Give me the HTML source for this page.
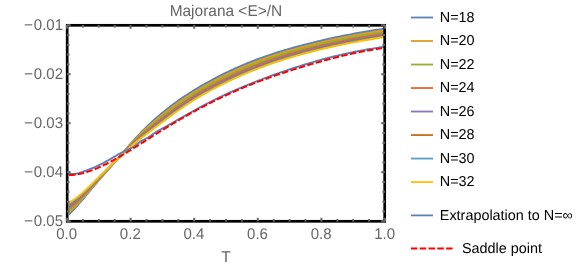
<!DOCTYPE html>
<html><head><meta charset="utf-8"><style>
html,body{margin:0;padding:0;background:#fff;overflow:hidden;}
svg{display:block;font-family:"Liberation Sans",sans-serif;will-change:transform;text-rendering:geometricPrecision;}
</style></head><body>
<svg width="581" height="267" viewBox="0 0 581 267">
<rect width="581" height="267" fill="#fff"/>
<defs><clipPath id="c"><rect x="67.2" y="25.3" width="318.5" height="196.0"/></clipPath><clipPath id="cb"><rect x="69.0" y="25.3" width="316.7" height="196.0"/></clipPath></defs>
<g clip-path="url(#cb)" fill="none" stroke-width="1.9" stroke-linejoin="round">
<path d="M67.00,216.15 L68.45,214.84 L69.91,213.47 L71.36,212.03 L72.82,210.55 L74.27,209.01 L75.73,207.43 L77.18,205.82 L78.63,204.17 L80.09,202.49 L81.54,200.79 L83.00,199.07 L84.45,197.34 L85.91,195.60 L87.36,193.85 L88.82,192.11 L90.27,190.38 L91.72,188.65 L93.18,186.94 L94.63,185.23 L96.09,183.53 L97.54,181.84 L99.00,180.16 L100.45,178.48 L101.90,176.80 L103.36,175.13 L104.81,173.46 L106.27,171.80 L107.72,170.13 L109.18,168.46 L110.63,166.79 L112.08,165.12 L113.54,163.45 L114.99,161.77 L116.45,160.09 L117.90,158.40 L119.36,156.71 L120.81,155.01 L122.26,153.32 L123.72,151.63 L125.17,149.95 L126.63,148.27 L128.08,146.60 L129.54,144.94 L130.99,143.29 L132.45,141.66 L133.90,140.05 L135.35,138.45 L136.81,136.87 L138.26,135.32 L139.72,133.79 L141.17,132.27 L142.63,130.79 L144.08,129.33 L145.53,127.89 L146.99,126.48 L148.44,125.09 L149.90,123.73 L151.35,122.38 L152.81,121.06 L154.26,119.76 L155.71,118.47 L157.17,117.21 L158.62,115.96 L160.08,114.73 L161.53,113.52 L162.99,112.32 L164.44,111.14 L165.89,109.98 L167.35,108.83 L168.80,107.69 L170.26,106.57 L171.71,105.46 L173.17,104.36 L174.62,103.28 L176.08,102.22 L177.53,101.17 L178.98,100.14 L180.44,99.12 L181.89,98.11 L183.35,97.12 L184.80,96.14 L186.26,95.18 L187.71,94.22 L189.16,93.29 L190.62,92.36 L192.07,91.44 L193.53,90.54 L194.98,89.64 L196.44,88.76 L197.89,87.89 L199.34,87.03 L200.80,86.18 L202.25,85.33 L203.71,84.50 L205.16,83.68 L206.62,82.86 L208.07,82.05 L209.53,81.25 L210.98,80.46 L212.43,79.68 L213.89,78.90 L215.34,78.13 L216.80,77.37 L218.25,76.61 L219.71,75.87 L221.16,75.13 L222.61,74.40 L224.07,73.68 L225.52,72.97 L226.98,72.26 L228.43,71.56 L229.89,70.87 L231.34,70.19 L232.79,69.51 L234.25,68.85 L235.70,68.19 L237.16,67.54 L238.61,66.89 L240.07,66.26 L241.52,65.63 L242.97,65.01 L244.43,64.39 L245.88,63.79 L247.34,63.19 L248.79,62.59 L250.25,62.01 L251.70,61.43 L253.16,60.87 L254.61,60.30 L256.06,59.75 L257.52,59.20 L258.97,58.66 L260.43,58.12 L261.88,57.60 L263.34,57.07 L264.79,56.56 L266.24,56.05 L267.70,55.55 L269.15,55.05 L270.61,54.56 L272.06,54.08 L273.52,53.60 L274.97,53.13 L276.42,52.66 L277.88,52.20 L279.33,51.75 L280.79,51.30 L282.24,50.85 L283.70,50.42 L285.15,49.98 L286.61,49.56 L288.06,49.13 L289.51,48.72 L290.97,48.30 L292.42,47.90 L293.88,47.49 L295.33,47.10 L296.79,46.70 L298.24,46.31 L299.69,45.93 L301.15,45.55 L302.60,45.17 L304.06,44.79 L305.51,44.42 L306.97,44.05 L308.42,43.67 L309.87,43.31 L311.33,42.94 L312.78,42.58 L314.24,42.22 L315.69,41.86 L317.15,41.50 L318.60,41.15 L320.05,40.80 L321.51,40.46 L322.96,40.11 L324.42,39.78 L325.87,39.44 L327.33,39.11 L328.78,38.78 L330.24,38.46 L331.69,38.14 L333.14,37.82 L334.60,37.51 L336.05,37.21 L337.51,36.91 L338.96,36.61 L340.42,36.32 L341.87,36.03 L343.32,35.74 L344.78,35.46 L346.23,35.17 L347.69,34.90 L349.14,34.62 L350.60,34.34 L352.05,34.07 L353.50,33.80 L354.96,33.54 L356.41,33.27 L357.87,33.01 L359.32,32.75 L360.78,32.49 L362.23,32.23 L363.68,31.98 L365.14,31.73 L366.59,31.48 L368.05,31.23 L369.50,30.99 L370.96,30.75 L372.41,30.51 L373.87,30.27 L375.32,30.03 L376.77,29.80 L378.23,29.57 L379.68,29.34 L381.14,29.11 L382.59,28.88 L384.05,28.66 L385.50,28.44 L385.50,30.09 L384.05,30.31 L382.59,30.54 L381.14,30.77 L379.68,31.01 L378.23,31.24 L376.77,31.48 L375.32,31.71 L373.87,31.95 L372.41,32.19 L370.96,32.44 L369.50,32.68 L368.05,32.93 L366.59,33.18 L365.14,33.43 L363.68,33.68 L362.23,33.94 L360.78,34.19 L359.32,34.45 L357.87,34.72 L356.41,34.98 L354.96,35.25 L353.50,35.52 L352.05,35.79 L350.60,36.06 L349.14,36.34 L347.69,36.62 L346.23,36.90 L344.78,37.18 L343.32,37.47 L341.87,37.76 L340.42,38.05 L338.96,38.35 L337.51,38.65 L336.05,38.95 L334.60,39.26 L333.14,39.57 L331.69,39.89 L330.24,40.21 L328.78,40.53 L327.33,40.86 L325.87,41.19 L324.42,41.53 L322.96,41.87 L321.51,42.21 L320.05,42.55 L318.60,42.90 L317.15,43.26 L315.69,43.61 L314.24,43.97 L312.78,44.33 L311.33,44.70 L309.87,45.07 L308.42,45.44 L306.97,45.81 L305.51,46.19 L304.06,46.56 L302.60,46.94 L301.15,47.33 L299.69,47.71 L298.24,48.10 L296.79,48.49 L295.33,48.89 L293.88,49.29 L292.42,49.70 L290.97,50.11 L289.51,50.53 L288.06,50.95 L286.61,51.38 L285.15,51.81 L283.70,52.25 L282.24,52.69 L280.79,53.14 L279.33,53.59 L277.88,54.05 L276.42,54.52 L274.97,54.99 L273.52,55.46 L272.06,55.95 L270.61,56.44 L269.15,56.93 L267.70,57.43 L266.24,57.94 L264.79,58.45 L263.34,58.97 L261.88,59.49 L260.43,60.03 L258.97,60.56 L257.52,61.11 L256.06,61.66 L254.61,62.22 L253.16,62.79 L251.70,63.36 L250.25,63.94 L248.79,64.52 L247.34,65.12 L245.88,65.72 L244.43,66.33 L242.97,66.95 L241.52,67.57 L240.07,68.20 L238.61,68.84 L237.16,69.49 L235.70,70.14 L234.25,70.80 L232.79,71.47 L231.34,72.15 L229.89,72.83 L228.43,73.52 L226.98,74.22 L225.52,74.93 L224.07,75.64 L222.61,76.37 L221.16,77.10 L219.71,77.83 L218.25,78.58 L216.80,79.33 L215.34,80.09 L213.89,80.86 L212.43,81.64 L210.98,82.42 L209.53,83.21 L208.07,84.01 L206.62,84.81 L205.16,85.63 L203.71,86.45 L202.25,87.28 L200.80,88.12 L199.34,88.97 L197.89,89.83 L196.44,90.71 L194.98,91.59 L193.53,92.48 L192.07,93.39 L190.62,94.31 L189.16,95.24 L187.71,96.18 L186.26,97.13 L184.80,98.10 L183.35,99.08 L181.89,100.07 L180.44,101.08 L178.98,102.10 L177.53,103.13 L176.08,104.18 L174.62,105.24 L173.17,106.32 L171.71,107.40 L170.26,108.50 L168.80,109.62 L167.35,110.74 L165.89,111.88 L164.44,113.03 L162.99,114.19 L161.53,115.36 L160.08,116.55 L158.62,117.75 L157.17,118.97 L155.71,120.20 L154.26,121.44 L152.81,122.70 L151.35,123.98 L149.90,125.28 L148.44,126.59 L146.99,127.91 L145.53,129.26 L144.08,130.63 L142.63,132.01 L141.17,133.42 L139.72,134.86 L138.26,136.32 L136.81,137.80 L135.35,139.30 L133.90,140.83 L132.45,142.37 L130.99,143.94 L129.54,145.51 L128.08,147.11 L126.63,148.71 L125.17,150.32 L123.72,151.94 L122.26,153.57 L120.81,155.20 L119.36,156.83 L117.90,158.45 L116.45,160.09 L114.99,161.72 L113.54,163.35 L112.08,164.98 L110.63,166.61 L109.18,168.23 L107.72,169.86 L106.27,171.48 L104.81,173.11 L103.36,174.73 L101.90,176.36 L100.45,178.00 L99.00,179.63 L97.54,181.27 L96.09,182.92 L94.63,184.57 L93.18,186.23 L91.72,187.90 L90.27,189.57 L88.82,191.25 L87.36,192.92 L85.91,194.60 L84.45,196.27 L83.00,197.93 L81.54,199.57 L80.09,201.19 L78.63,202.78 L77.18,204.34 L75.73,205.87 L74.27,207.36 L72.82,208.80 L71.36,210.19 L69.91,211.52 L68.45,212.80 L67.00,214.01Z" fill="#5E81B5" stroke="none"/>
<path d="M67.00,214.01 L68.45,212.80 L69.91,211.52 L71.36,210.19 L72.82,208.80 L74.27,207.36 L75.73,205.87 L77.18,204.34 L78.63,202.78 L80.09,201.19 L81.54,199.57 L83.00,197.93 L84.45,196.27 L85.91,194.60 L87.36,192.92 L88.82,191.25 L90.27,189.57 L91.72,187.90 L93.18,186.23 L94.63,184.57 L96.09,182.92 L97.54,181.27 L99.00,179.63 L100.45,178.00 L101.90,176.36 L103.36,174.73 L104.81,173.11 L106.27,171.48 L107.72,169.86 L109.18,168.23 L110.63,166.61 L112.08,164.98 L113.54,163.35 L114.99,161.72 L116.45,160.09 L117.90,158.45 L119.36,156.83 L120.81,155.20 L122.26,153.57 L123.72,151.94 L125.17,150.32 L126.63,148.71 L128.08,147.11 L129.54,145.51 L130.99,143.94 L132.45,142.37 L133.90,140.83 L135.35,139.30 L136.81,137.80 L138.26,136.32 L139.72,134.86 L141.17,133.42 L142.63,132.01 L144.08,130.63 L145.53,129.26 L146.99,127.91 L148.44,126.59 L149.90,125.28 L151.35,123.98 L152.81,122.70 L154.26,121.44 L155.71,120.20 L157.17,118.97 L158.62,117.75 L160.08,116.55 L161.53,115.36 L162.99,114.19 L164.44,113.03 L165.89,111.88 L167.35,110.74 L168.80,109.62 L170.26,108.50 L171.71,107.40 L173.17,106.32 L174.62,105.24 L176.08,104.18 L177.53,103.13 L178.98,102.10 L180.44,101.08 L181.89,100.07 L183.35,99.08 L184.80,98.10 L186.26,97.13 L187.71,96.18 L189.16,95.24 L190.62,94.31 L192.07,93.39 L193.53,92.48 L194.98,91.59 L196.44,90.71 L197.89,89.83 L199.34,88.97 L200.80,88.12 L202.25,87.28 L203.71,86.45 L205.16,85.63 L206.62,84.81 L208.07,84.01 L209.53,83.21 L210.98,82.42 L212.43,81.64 L213.89,80.86 L215.34,80.09 L216.80,79.33 L218.25,78.58 L219.71,77.83 L221.16,77.10 L222.61,76.37 L224.07,75.64 L225.52,74.93 L226.98,74.22 L228.43,73.52 L229.89,72.83 L231.34,72.15 L232.79,71.47 L234.25,70.80 L235.70,70.14 L237.16,69.49 L238.61,68.84 L240.07,68.20 L241.52,67.57 L242.97,66.95 L244.43,66.33 L245.88,65.72 L247.34,65.12 L248.79,64.52 L250.25,63.94 L251.70,63.36 L253.16,62.79 L254.61,62.22 L256.06,61.66 L257.52,61.11 L258.97,60.56 L260.43,60.03 L261.88,59.49 L263.34,58.97 L264.79,58.45 L266.24,57.94 L267.70,57.43 L269.15,56.93 L270.61,56.44 L272.06,55.95 L273.52,55.46 L274.97,54.99 L276.42,54.52 L277.88,54.05 L279.33,53.59 L280.79,53.14 L282.24,52.69 L283.70,52.25 L285.15,51.81 L286.61,51.38 L288.06,50.95 L289.51,50.53 L290.97,50.11 L292.42,49.70 L293.88,49.29 L295.33,48.89 L296.79,48.49 L298.24,48.10 L299.69,47.71 L301.15,47.33 L302.60,46.94 L304.06,46.56 L305.51,46.19 L306.97,45.81 L308.42,45.44 L309.87,45.07 L311.33,44.70 L312.78,44.33 L314.24,43.97 L315.69,43.61 L317.15,43.26 L318.60,42.90 L320.05,42.55 L321.51,42.21 L322.96,41.87 L324.42,41.53 L325.87,41.19 L327.33,40.86 L328.78,40.53 L330.24,40.21 L331.69,39.89 L333.14,39.57 L334.60,39.26 L336.05,38.95 L337.51,38.65 L338.96,38.35 L340.42,38.05 L341.87,37.76 L343.32,37.47 L344.78,37.18 L346.23,36.90 L347.69,36.62 L349.14,36.34 L350.60,36.06 L352.05,35.79 L353.50,35.52 L354.96,35.25 L356.41,34.98 L357.87,34.72 L359.32,34.45 L360.78,34.19 L362.23,33.94 L363.68,33.68 L365.14,33.43 L366.59,33.18 L368.05,32.93 L369.50,32.68 L370.96,32.44 L372.41,32.19 L373.87,31.95 L375.32,31.71 L376.77,31.48 L378.23,31.24 L379.68,31.01 L381.14,30.77 L382.59,30.54 L384.05,30.31 L385.50,30.09 L385.50,31.74 L384.05,31.97 L382.59,32.21 L381.14,32.44 L379.68,32.68 L378.23,32.91 L376.77,33.15 L375.32,33.39 L373.87,33.64 L372.41,33.88 L370.96,34.13 L369.50,34.37 L368.05,34.62 L366.59,34.87 L365.14,35.13 L363.68,35.38 L362.23,35.64 L360.78,35.90 L359.32,36.16 L357.87,36.42 L356.41,36.69 L354.96,36.96 L353.50,37.23 L352.05,37.50 L350.60,37.78 L349.14,38.06 L347.69,38.34 L346.23,38.62 L344.78,38.91 L343.32,39.20 L341.87,39.49 L340.42,39.79 L338.96,40.08 L337.51,40.39 L336.05,40.69 L334.60,41.00 L333.14,41.32 L331.69,41.63 L330.24,41.95 L328.78,42.28 L327.33,42.61 L325.87,42.94 L324.42,43.28 L322.96,43.62 L321.51,43.96 L320.05,44.31 L318.60,44.66 L317.15,45.01 L315.69,45.37 L314.24,45.73 L312.78,46.09 L311.33,46.46 L309.87,46.83 L308.42,47.20 L306.97,47.57 L305.51,47.95 L304.06,48.33 L302.60,48.72 L301.15,49.10 L299.69,49.49 L298.24,49.89 L296.79,50.29 L295.33,50.69 L293.88,51.10 L292.42,51.51 L290.97,51.92 L289.51,52.35 L288.06,52.77 L286.61,53.20 L285.15,53.64 L283.70,54.08 L282.24,54.53 L280.79,54.98 L279.33,55.44 L277.88,55.90 L276.42,56.37 L274.97,56.85 L273.52,57.33 L272.06,57.82 L270.61,58.31 L269.15,58.81 L267.70,59.31 L266.24,59.82 L264.79,60.34 L263.34,60.86 L261.88,61.39 L260.43,61.93 L258.97,62.47 L257.52,63.02 L256.06,63.57 L254.61,64.14 L253.16,64.71 L251.70,65.28 L250.25,65.86 L248.79,66.45 L247.34,67.05 L245.88,67.66 L244.43,68.27 L242.97,68.89 L241.52,69.51 L240.07,70.15 L238.61,70.79 L237.16,71.44 L235.70,72.10 L234.25,72.76 L232.79,73.43 L231.34,74.11 L229.89,74.79 L228.43,75.49 L226.98,76.19 L225.52,76.90 L224.07,77.61 L222.61,78.33 L221.16,79.06 L219.71,79.80 L218.25,80.54 L216.80,81.30 L215.34,82.05 L213.89,82.82 L212.43,83.59 L210.98,84.37 L209.53,85.16 L208.07,85.96 L206.62,86.76 L205.16,87.58 L203.71,88.40 L202.25,89.23 L200.80,90.07 L199.34,90.92 L197.89,91.78 L196.44,92.65 L194.98,93.54 L193.53,94.43 L192.07,95.34 L190.62,96.26 L189.16,97.19 L187.71,98.13 L186.26,99.09 L184.80,100.06 L183.35,101.04 L181.89,102.04 L180.44,103.04 L178.98,104.07 L177.53,105.10 L176.08,106.14 L174.62,107.20 L173.17,108.27 L171.71,109.35 L170.26,110.44 L168.80,111.55 L167.35,112.66 L165.89,113.78 L164.44,114.91 L162.99,116.06 L161.53,117.21 L160.08,118.37 L158.62,119.54 L157.17,120.73 L155.71,121.92 L154.26,123.13 L152.81,124.35 L151.35,125.58 L149.90,126.82 L148.44,128.08 L146.99,129.35 L145.53,130.63 L144.08,131.92 L142.63,133.24 L141.17,134.57 L139.72,135.93 L138.26,137.32 L136.81,138.72 L135.35,140.16 L133.90,141.61 L132.45,143.09 L130.99,144.58 L129.54,146.09 L128.08,147.61 L126.63,149.15 L125.17,150.69 L123.72,152.25 L122.26,153.81 L120.81,155.38 L119.36,156.95 L117.90,158.49 L116.45,160.09 L114.99,161.68 L113.54,163.27 L112.08,164.86 L110.63,166.45 L109.18,168.03 L107.72,169.62 L106.27,171.21 L104.81,172.79 L103.36,174.38 L101.90,175.98 L100.45,177.57 L99.00,179.17 L97.54,180.77 L96.09,182.38 L94.63,184.00 L93.18,185.61 L91.72,187.23 L90.27,188.86 L88.82,190.48 L87.36,192.11 L85.91,193.72 L84.45,195.33 L83.00,196.92 L81.54,198.49 L80.09,200.04 L78.63,201.56 L77.18,203.04 L75.73,204.49 L74.27,205.90 L72.82,207.25 L71.36,208.56 L69.91,209.81 L68.45,211.00 L67.00,212.12Z" fill="#E19C24" stroke="none"/>
<path d="M67.00,212.12 L68.45,211.00 L69.91,209.81 L71.36,208.56 L72.82,207.25 L74.27,205.90 L75.73,204.49 L77.18,203.04 L78.63,201.56 L80.09,200.04 L81.54,198.49 L83.00,196.92 L84.45,195.33 L85.91,193.72 L87.36,192.11 L88.82,190.48 L90.27,188.86 L91.72,187.23 L93.18,185.61 L94.63,184.00 L96.09,182.38 L97.54,180.77 L99.00,179.17 L100.45,177.57 L101.90,175.98 L103.36,174.38 L104.81,172.79 L106.27,171.21 L107.72,169.62 L109.18,168.03 L110.63,166.45 L112.08,164.86 L113.54,163.27 L114.99,161.68 L116.45,160.09 L117.90,158.49 L119.36,156.95 L120.81,155.38 L122.26,153.81 L123.72,152.25 L125.17,150.69 L126.63,149.15 L128.08,147.61 L129.54,146.09 L130.99,144.58 L132.45,143.09 L133.90,141.61 L135.35,140.16 L136.81,138.72 L138.26,137.32 L139.72,135.93 L141.17,134.57 L142.63,133.24 L144.08,131.92 L145.53,130.63 L146.99,129.35 L148.44,128.08 L149.90,126.82 L151.35,125.58 L152.81,124.35 L154.26,123.13 L155.71,121.92 L157.17,120.73 L158.62,119.54 L160.08,118.37 L161.53,117.21 L162.99,116.06 L164.44,114.91 L165.89,113.78 L167.35,112.66 L168.80,111.55 L170.26,110.44 L171.71,109.35 L173.17,108.27 L174.62,107.20 L176.08,106.14 L177.53,105.10 L178.98,104.07 L180.44,103.04 L181.89,102.04 L183.35,101.04 L184.80,100.06 L186.26,99.09 L187.71,98.13 L189.16,97.19 L190.62,96.26 L192.07,95.34 L193.53,94.43 L194.98,93.54 L196.44,92.65 L197.89,91.78 L199.34,90.92 L200.80,90.07 L202.25,89.23 L203.71,88.40 L205.16,87.58 L206.62,86.76 L208.07,85.96 L209.53,85.16 L210.98,84.37 L212.43,83.59 L213.89,82.82 L215.34,82.05 L216.80,81.30 L218.25,80.54 L219.71,79.80 L221.16,79.06 L222.61,78.33 L224.07,77.61 L225.52,76.90 L226.98,76.19 L228.43,75.49 L229.89,74.79 L231.34,74.11 L232.79,73.43 L234.25,72.76 L235.70,72.10 L237.16,71.44 L238.61,70.79 L240.07,70.15 L241.52,69.51 L242.97,68.89 L244.43,68.27 L245.88,67.66 L247.34,67.05 L248.79,66.45 L250.25,65.86 L251.70,65.28 L253.16,64.71 L254.61,64.14 L256.06,63.57 L257.52,63.02 L258.97,62.47 L260.43,61.93 L261.88,61.39 L263.34,60.86 L264.79,60.34 L266.24,59.82 L267.70,59.31 L269.15,58.81 L270.61,58.31 L272.06,57.82 L273.52,57.33 L274.97,56.85 L276.42,56.37 L277.88,55.90 L279.33,55.44 L280.79,54.98 L282.24,54.53 L283.70,54.08 L285.15,53.64 L286.61,53.20 L288.06,52.77 L289.51,52.35 L290.97,51.92 L292.42,51.51 L293.88,51.10 L295.33,50.69 L296.79,50.29 L298.24,49.89 L299.69,49.49 L301.15,49.10 L302.60,48.72 L304.06,48.33 L305.51,47.95 L306.97,47.57 L308.42,47.20 L309.87,46.83 L311.33,46.46 L312.78,46.09 L314.24,45.73 L315.69,45.37 L317.15,45.01 L318.60,44.66 L320.05,44.31 L321.51,43.96 L322.96,43.62 L324.42,43.28 L325.87,42.94 L327.33,42.61 L328.78,42.28 L330.24,41.95 L331.69,41.63 L333.14,41.32 L334.60,41.00 L336.05,40.69 L337.51,40.39 L338.96,40.08 L340.42,39.79 L341.87,39.49 L343.32,39.20 L344.78,38.91 L346.23,38.62 L347.69,38.34 L349.14,38.06 L350.60,37.78 L352.05,37.50 L353.50,37.23 L354.96,36.96 L356.41,36.69 L357.87,36.42 L359.32,36.16 L360.78,35.90 L362.23,35.64 L363.68,35.38 L365.14,35.13 L366.59,34.87 L368.05,34.62 L369.50,34.37 L370.96,34.13 L372.41,33.88 L373.87,33.64 L375.32,33.39 L376.77,33.15 L378.23,32.91 L379.68,32.68 L381.14,32.44 L382.59,32.21 L384.05,31.97 L385.50,31.74 L385.50,33.39 L384.05,33.63 L382.59,33.87 L381.14,34.11 L379.68,34.35 L378.23,34.59 L376.77,34.83 L375.32,35.08 L373.87,35.32 L372.41,35.57 L370.96,35.82 L369.50,36.06 L368.05,36.32 L366.59,36.57 L365.14,36.82 L363.68,37.08 L362.23,37.34 L360.78,37.60 L359.32,37.86 L357.87,38.13 L356.41,38.40 L354.96,38.67 L353.50,38.94 L352.05,39.22 L350.60,39.50 L349.14,39.78 L347.69,40.06 L346.23,40.35 L344.78,40.64 L343.32,40.93 L341.87,41.22 L340.42,41.52 L338.96,41.82 L337.51,42.13 L336.05,42.43 L334.60,42.75 L333.14,43.06 L331.69,43.38 L330.24,43.70 L328.78,44.03 L327.33,44.36 L325.87,44.69 L324.42,45.03 L322.96,45.37 L321.51,45.71 L320.05,46.06 L318.60,46.41 L317.15,46.76 L315.69,47.12 L314.24,47.48 L312.78,47.85 L311.33,48.21 L309.87,48.59 L308.42,48.96 L306.97,49.34 L305.51,49.72 L304.06,50.10 L302.60,50.49 L301.15,50.88 L299.69,51.28 L298.24,51.67 L296.79,52.08 L295.33,52.48 L293.88,52.90 L292.42,53.31 L290.97,53.73 L289.51,54.16 L288.06,54.59 L286.61,55.03 L285.15,55.47 L283.70,55.92 L282.24,56.37 L280.79,56.82 L279.33,57.29 L277.88,57.76 L276.42,58.23 L274.97,58.71 L273.52,59.19 L272.06,59.69 L270.61,60.18 L269.15,60.69 L267.70,61.19 L266.24,61.71 L264.79,62.23 L263.34,62.76 L261.88,63.29 L260.43,63.83 L258.97,64.38 L257.52,64.93 L256.06,65.49 L254.61,66.05 L253.16,66.63 L251.70,67.20 L250.25,67.79 L248.79,68.38 L247.34,68.98 L245.88,69.59 L244.43,70.21 L242.97,70.83 L241.52,71.46 L240.07,72.09 L238.61,72.74 L237.16,73.39 L235.70,74.05 L234.25,74.72 L232.79,75.39 L231.34,76.07 L229.89,76.76 L228.43,77.45 L226.98,78.15 L225.52,78.86 L224.07,79.58 L222.61,80.30 L221.16,81.03 L219.71,81.76 L218.25,82.51 L216.80,83.26 L215.34,84.02 L213.89,84.78 L212.43,85.55 L210.98,86.33 L209.53,87.12 L208.07,87.91 L206.62,88.71 L205.16,89.52 L203.71,90.34 L202.25,91.17 L200.80,92.01 L199.34,92.86 L197.89,93.73 L196.44,94.60 L194.98,95.48 L193.53,96.38 L192.07,97.29 L190.62,98.21 L189.16,99.14 L187.71,100.09 L186.26,101.05 L184.80,102.02 L183.35,103.00 L181.89,104.00 L180.44,105.01 L178.98,106.03 L177.53,107.06 L176.08,108.10 L174.62,109.16 L173.17,110.22 L171.71,111.30 L170.26,112.38 L168.80,113.48 L167.35,114.58 L165.89,115.68 L164.44,116.80 L162.99,117.92 L161.53,119.05 L160.08,120.19 L158.62,121.33 L157.17,122.49 L155.71,123.65 L154.26,124.82 L152.81,125.99 L151.35,127.18 L149.90,128.37 L148.44,129.57 L146.99,130.78 L145.53,132.00 L144.08,133.22 L142.63,134.46 L141.17,135.72 L139.72,137.00 L138.26,138.31 L136.81,139.65 L135.35,141.01 L133.90,142.39 L132.45,143.80 L130.99,145.22 L129.54,146.66 L128.08,148.12 L126.63,149.59 L125.17,151.07 L123.72,152.56 L122.26,154.06 L120.81,155.56 L119.36,157.07 L117.90,158.55 L116.45,160.09 L114.99,161.63 L113.54,163.18 L112.08,164.72 L110.63,166.26 L109.18,167.80 L107.72,169.34 L106.27,170.88 L104.81,172.42 L103.36,173.96 L101.90,175.51 L100.45,177.06 L99.00,178.61 L97.54,180.17 L96.09,181.74 L94.63,183.30 L93.18,184.87 L91.72,186.44 L90.27,188.00 L88.82,189.57 L87.36,191.12 L85.91,192.67 L84.45,194.20 L83.00,195.71 L81.54,197.20 L80.09,198.66 L78.63,200.09 L77.18,201.48 L75.73,202.84 L74.27,204.14 L72.82,205.40 L71.36,206.60 L69.91,207.75 L68.45,208.84 L67.00,209.85Z" fill="#8FB032" stroke="none"/>
<path d="M67.00,209.85 L68.45,208.84 L69.91,207.75 L71.36,206.60 L72.82,205.40 L74.27,204.14 L75.73,202.84 L77.18,201.48 L78.63,200.09 L80.09,198.66 L81.54,197.20 L83.00,195.71 L84.45,194.20 L85.91,192.67 L87.36,191.12 L88.82,189.57 L90.27,188.00 L91.72,186.44 L93.18,184.87 L94.63,183.30 L96.09,181.74 L97.54,180.17 L99.00,178.61 L100.45,177.06 L101.90,175.51 L103.36,173.96 L104.81,172.42 L106.27,170.88 L107.72,169.34 L109.18,167.80 L110.63,166.26 L112.08,164.72 L113.54,163.18 L114.99,161.63 L116.45,160.09 L117.90,158.55 L119.36,157.07 L120.81,155.56 L122.26,154.06 L123.72,152.56 L125.17,151.07 L126.63,149.59 L128.08,148.12 L129.54,146.66 L130.99,145.22 L132.45,143.80 L133.90,142.39 L135.35,141.01 L136.81,139.65 L138.26,138.31 L139.72,137.00 L141.17,135.72 L142.63,134.46 L144.08,133.22 L145.53,132.00 L146.99,130.78 L148.44,129.57 L149.90,128.37 L151.35,127.18 L152.81,125.99 L154.26,124.82 L155.71,123.65 L157.17,122.49 L158.62,121.33 L160.08,120.19 L161.53,119.05 L162.99,117.92 L164.44,116.80 L165.89,115.68 L167.35,114.58 L168.80,113.48 L170.26,112.38 L171.71,111.30 L173.17,110.22 L174.62,109.16 L176.08,108.10 L177.53,107.06 L178.98,106.03 L180.44,105.01 L181.89,104.00 L183.35,103.00 L184.80,102.02 L186.26,101.05 L187.71,100.09 L189.16,99.14 L190.62,98.21 L192.07,97.29 L193.53,96.38 L194.98,95.48 L196.44,94.60 L197.89,93.73 L199.34,92.86 L200.80,92.01 L202.25,91.17 L203.71,90.34 L205.16,89.52 L206.62,88.71 L208.07,87.91 L209.53,87.12 L210.98,86.33 L212.43,85.55 L213.89,84.78 L215.34,84.02 L216.80,83.26 L218.25,82.51 L219.71,81.76 L221.16,81.03 L222.61,80.30 L224.07,79.58 L225.52,78.86 L226.98,78.15 L228.43,77.45 L229.89,76.76 L231.34,76.07 L232.79,75.39 L234.25,74.72 L235.70,74.05 L237.16,73.39 L238.61,72.74 L240.07,72.09 L241.52,71.46 L242.97,70.83 L244.43,70.21 L245.88,69.59 L247.34,68.98 L248.79,68.38 L250.25,67.79 L251.70,67.20 L253.16,66.63 L254.61,66.05 L256.06,65.49 L257.52,64.93 L258.97,64.38 L260.43,63.83 L261.88,63.29 L263.34,62.76 L264.79,62.23 L266.24,61.71 L267.70,61.19 L269.15,60.69 L270.61,60.18 L272.06,59.69 L273.52,59.19 L274.97,58.71 L276.42,58.23 L277.88,57.76 L279.33,57.29 L280.79,56.82 L282.24,56.37 L283.70,55.92 L285.15,55.47 L286.61,55.03 L288.06,54.59 L289.51,54.16 L290.97,53.73 L292.42,53.31 L293.88,52.90 L295.33,52.48 L296.79,52.08 L298.24,51.67 L299.69,51.28 L301.15,50.88 L302.60,50.49 L304.06,50.10 L305.51,49.72 L306.97,49.34 L308.42,48.96 L309.87,48.59 L311.33,48.21 L312.78,47.85 L314.24,47.48 L315.69,47.12 L317.15,46.76 L318.60,46.41 L320.05,46.06 L321.51,45.71 L322.96,45.37 L324.42,45.03 L325.87,44.69 L327.33,44.36 L328.78,44.03 L330.24,43.70 L331.69,43.38 L333.14,43.06 L334.60,42.75 L336.05,42.43 L337.51,42.13 L338.96,41.82 L340.42,41.52 L341.87,41.22 L343.32,40.93 L344.78,40.64 L346.23,40.35 L347.69,40.06 L349.14,39.78 L350.60,39.50 L352.05,39.22 L353.50,38.94 L354.96,38.67 L356.41,38.40 L357.87,38.13 L359.32,37.86 L360.78,37.60 L362.23,37.34 L363.68,37.08 L365.14,36.82 L366.59,36.57 L368.05,36.32 L369.50,36.06 L370.96,35.82 L372.41,35.57 L373.87,35.32 L375.32,35.08 L376.77,34.83 L378.23,34.59 L379.68,34.35 L381.14,34.11 L382.59,33.87 L384.05,33.63 L385.50,33.39 L385.50,34.46 L384.05,34.70 L382.59,34.95 L381.14,35.19 L379.68,35.43 L378.23,35.68 L376.77,35.92 L375.32,36.17 L373.87,36.41 L372.41,36.66 L370.96,36.91 L369.50,37.16 L368.05,37.42 L366.59,37.67 L365.14,37.93 L363.68,38.19 L362.23,38.45 L360.78,38.71 L359.32,38.97 L357.87,39.24 L356.41,39.51 L354.96,39.78 L353.50,40.06 L352.05,40.33 L350.60,40.61 L349.14,40.90 L347.69,41.18 L346.23,41.47 L344.78,41.76 L343.32,42.05 L341.87,42.35 L340.42,42.65 L338.96,42.95 L337.51,43.26 L336.05,43.57 L334.60,43.88 L333.14,44.19 L331.69,44.51 L330.24,44.84 L328.78,45.16 L327.33,45.49 L325.87,45.83 L324.42,46.16 L322.96,46.50 L321.51,46.85 L320.05,47.20 L318.60,47.55 L317.15,47.90 L315.69,48.26 L314.24,48.62 L312.78,48.99 L311.33,49.36 L309.87,49.73 L308.42,50.11 L306.97,50.49 L305.51,50.87 L304.06,51.25 L302.60,51.64 L301.15,52.04 L299.69,52.43 L298.24,52.84 L296.79,53.24 L295.33,53.65 L293.88,54.07 L292.42,54.49 L290.97,54.91 L289.51,55.34 L288.06,55.77 L286.61,56.21 L285.15,56.66 L283.70,57.11 L282.24,57.56 L280.79,58.02 L279.33,58.49 L277.88,58.96 L276.42,59.44 L274.97,59.92 L273.52,60.41 L272.06,60.90 L270.61,61.40 L269.15,61.91 L267.70,62.42 L266.24,62.94 L264.79,63.46 L263.34,63.99 L261.88,64.53 L260.43,65.07 L258.97,65.62 L257.52,66.17 L256.06,66.73 L254.61,67.30 L253.16,67.87 L251.70,68.45 L250.25,69.04 L248.79,69.64 L247.34,70.24 L245.88,70.85 L244.43,71.46 L242.97,72.09 L241.52,72.72 L240.07,73.36 L238.61,74.01 L237.16,74.66 L235.70,75.32 L234.25,75.99 L232.79,76.66 L231.34,77.34 L229.89,78.03 L228.43,78.73 L226.98,79.43 L225.52,80.14 L224.07,80.85 L222.61,81.58 L221.16,82.31 L219.71,83.04 L218.25,83.79 L216.80,84.54 L215.34,85.29 L213.89,86.06 L212.43,86.83 L210.98,87.60 L209.53,88.39 L208.07,89.18 L206.62,89.98 L205.16,90.79 L203.71,91.61 L202.25,92.44 L200.80,93.28 L199.34,94.13 L197.89,94.99 L196.44,95.86 L194.98,96.75 L193.53,97.64 L192.07,98.55 L190.62,99.48 L189.16,100.41 L187.71,101.36 L186.26,102.32 L184.80,103.29 L183.35,104.28 L181.89,105.28 L180.44,106.28 L178.98,107.31 L177.53,108.34 L176.08,109.38 L174.62,110.43 L173.17,111.49 L171.71,112.56 L170.26,113.64 L168.80,114.73 L167.35,115.82 L165.89,116.92 L164.44,118.02 L162.99,119.13 L161.53,120.25 L160.08,121.37 L158.62,122.50 L157.17,123.63 L155.71,124.77 L154.26,125.92 L152.81,127.06 L151.35,128.22 L149.90,129.38 L148.44,130.54 L146.99,131.71 L145.53,132.89 L144.08,134.07 L142.63,135.26 L141.17,136.47 L139.72,137.70 L138.26,138.96 L136.81,140.25 L135.35,141.56 L133.90,142.90 L132.45,144.26 L130.99,145.64 L129.54,147.03 L128.08,148.45 L126.63,149.87 L125.17,151.31 L123.72,152.76 L122.26,154.22 L120.81,155.68 L119.36,157.15 L117.90,158.59 L116.45,160.09 L114.99,161.60 L113.54,163.10 L112.08,164.60 L110.63,166.11 L109.18,167.61 L107.72,169.11 L106.27,170.62 L104.81,172.13 L103.36,173.63 L101.90,175.15 L100.45,176.66 L99.00,178.18 L97.54,179.71 L96.09,181.23 L94.63,182.76 L93.18,184.29 L91.72,185.82 L90.27,187.34 L88.82,188.85 L87.36,190.36 L85.91,191.85 L84.45,193.32 L83.00,194.77 L81.54,196.20 L80.09,197.59 L78.63,198.95 L77.18,200.27 L75.73,201.55 L74.27,202.78 L72.82,203.96 L71.36,205.08 L69.91,206.15 L68.45,207.15 L67.00,208.09Z" fill="#EB6235" stroke="none"/>
<path d="M67.00,208.09 L68.45,207.15 L69.91,206.15 L71.36,205.08 L72.82,203.96 L74.27,202.78 L75.73,201.55 L77.18,200.27 L78.63,198.95 L80.09,197.59 L81.54,196.20 L83.00,194.77 L84.45,193.32 L85.91,191.85 L87.36,190.36 L88.82,188.85 L90.27,187.34 L91.72,185.82 L93.18,184.29 L94.63,182.76 L96.09,181.23 L97.54,179.71 L99.00,178.18 L100.45,176.66 L101.90,175.15 L103.36,173.63 L104.81,172.13 L106.27,170.62 L107.72,169.11 L109.18,167.61 L110.63,166.11 L112.08,164.60 L113.54,163.10 L114.99,161.60 L116.45,160.09 L117.90,158.59 L119.36,157.15 L120.81,155.68 L122.26,154.22 L123.72,152.76 L125.17,151.31 L126.63,149.87 L128.08,148.45 L129.54,147.03 L130.99,145.64 L132.45,144.26 L133.90,142.90 L135.35,141.56 L136.81,140.25 L138.26,138.96 L139.72,137.70 L141.17,136.47 L142.63,135.26 L144.08,134.07 L145.53,132.89 L146.99,131.71 L148.44,130.54 L149.90,129.38 L151.35,128.22 L152.81,127.06 L154.26,125.92 L155.71,124.77 L157.17,123.63 L158.62,122.50 L160.08,121.37 L161.53,120.25 L162.99,119.13 L164.44,118.02 L165.89,116.92 L167.35,115.82 L168.80,114.73 L170.26,113.64 L171.71,112.56 L173.17,111.49 L174.62,110.43 L176.08,109.38 L177.53,108.34 L178.98,107.31 L180.44,106.28 L181.89,105.28 L183.35,104.28 L184.80,103.29 L186.26,102.32 L187.71,101.36 L189.16,100.41 L190.62,99.48 L192.07,98.55 L193.53,97.64 L194.98,96.75 L196.44,95.86 L197.89,94.99 L199.34,94.13 L200.80,93.28 L202.25,92.44 L203.71,91.61 L205.16,90.79 L206.62,89.98 L208.07,89.18 L209.53,88.39 L210.98,87.60 L212.43,86.83 L213.89,86.06 L215.34,85.29 L216.80,84.54 L218.25,83.79 L219.71,83.04 L221.16,82.31 L222.61,81.58 L224.07,80.85 L225.52,80.14 L226.98,79.43 L228.43,78.73 L229.89,78.03 L231.34,77.34 L232.79,76.66 L234.25,75.99 L235.70,75.32 L237.16,74.66 L238.61,74.01 L240.07,73.36 L241.52,72.72 L242.97,72.09 L244.43,71.46 L245.88,70.85 L247.34,70.24 L248.79,69.64 L250.25,69.04 L251.70,68.45 L253.16,67.87 L254.61,67.30 L256.06,66.73 L257.52,66.17 L258.97,65.62 L260.43,65.07 L261.88,64.53 L263.34,63.99 L264.79,63.46 L266.24,62.94 L267.70,62.42 L269.15,61.91 L270.61,61.40 L272.06,60.90 L273.52,60.41 L274.97,59.92 L276.42,59.44 L277.88,58.96 L279.33,58.49 L280.79,58.02 L282.24,57.56 L283.70,57.11 L285.15,56.66 L286.61,56.21 L288.06,55.77 L289.51,55.34 L290.97,54.91 L292.42,54.49 L293.88,54.07 L295.33,53.65 L296.79,53.24 L298.24,52.84 L299.69,52.43 L301.15,52.04 L302.60,51.64 L304.06,51.25 L305.51,50.87 L306.97,50.49 L308.42,50.11 L309.87,49.73 L311.33,49.36 L312.78,48.99 L314.24,48.62 L315.69,48.26 L317.15,47.90 L318.60,47.55 L320.05,47.20 L321.51,46.85 L322.96,46.50 L324.42,46.16 L325.87,45.83 L327.33,45.49 L328.78,45.16 L330.24,44.84 L331.69,44.51 L333.14,44.19 L334.60,43.88 L336.05,43.57 L337.51,43.26 L338.96,42.95 L340.42,42.65 L341.87,42.35 L343.32,42.05 L344.78,41.76 L346.23,41.47 L347.69,41.18 L349.14,40.90 L350.60,40.61 L352.05,40.33 L353.50,40.06 L354.96,39.78 L356.41,39.51 L357.87,39.24 L359.32,38.97 L360.78,38.71 L362.23,38.45 L363.68,38.19 L365.14,37.93 L366.59,37.67 L368.05,37.42 L369.50,37.16 L370.96,36.91 L372.41,36.66 L373.87,36.41 L375.32,36.17 L376.77,35.92 L378.23,35.68 L379.68,35.43 L381.14,35.19 L382.59,34.95 L384.05,34.70 L385.50,34.46 L385.50,35.45 L384.05,35.70 L382.59,35.94 L381.14,36.19 L379.68,36.43 L378.23,36.68 L376.77,36.93 L375.32,37.18 L373.87,37.43 L372.41,37.68 L370.96,37.93 L369.50,38.18 L368.05,38.43 L366.59,38.69 L365.14,38.95 L363.68,39.21 L362.23,39.47 L360.78,39.73 L359.32,40.00 L357.87,40.26 L356.41,40.53 L354.96,40.81 L353.50,41.08 L352.05,41.36 L350.60,41.64 L349.14,41.93 L347.69,42.21 L346.23,42.50 L344.78,42.80 L343.32,43.09 L341.87,43.39 L340.42,43.69 L338.96,43.99 L337.51,44.30 L336.05,44.61 L334.60,44.93 L333.14,45.24 L331.69,45.56 L330.24,45.89 L328.78,46.21 L327.33,46.54 L325.87,46.88 L324.42,47.21 L322.96,47.56 L321.51,47.90 L320.05,48.25 L318.60,48.60 L317.15,48.95 L315.69,49.31 L314.24,49.68 L312.78,50.04 L311.33,50.41 L309.87,50.79 L308.42,51.16 L306.97,51.54 L305.51,51.93 L304.06,52.32 L302.60,52.71 L301.15,53.10 L299.69,53.50 L298.24,53.91 L296.79,54.32 L295.33,54.73 L293.88,55.15 L292.42,55.57 L290.97,56.00 L289.51,56.43 L288.06,56.87 L286.61,57.31 L285.15,57.75 L283.70,58.21 L282.24,58.66 L280.79,59.13 L279.33,59.60 L277.88,60.07 L276.42,60.55 L274.97,61.03 L273.52,61.52 L272.06,62.02 L270.61,62.52 L269.15,63.03 L267.70,63.55 L266.24,64.07 L264.79,64.59 L263.34,65.13 L261.88,65.67 L260.43,66.21 L258.97,66.76 L257.52,67.32 L256.06,67.88 L254.61,68.45 L253.16,69.03 L251.70,69.61 L250.25,70.20 L248.79,70.79 L247.34,71.40 L245.88,72.01 L244.43,72.63 L242.97,73.25 L241.52,73.89 L240.07,74.53 L238.61,75.18 L237.16,75.83 L235.70,76.49 L234.25,77.16 L232.79,77.84 L231.34,78.52 L229.89,79.21 L228.43,79.90 L226.98,80.61 L225.52,81.32 L224.07,82.03 L222.61,82.76 L221.16,83.48 L219.71,84.22 L218.25,84.96 L216.80,85.71 L215.34,86.47 L213.89,87.23 L212.43,88.00 L210.98,88.78 L209.53,89.56 L208.07,90.35 L206.62,91.15 L205.16,91.96 L203.71,92.78 L202.25,93.61 L200.80,94.45 L199.34,95.30 L197.89,96.16 L196.44,97.03 L194.98,97.91 L193.53,98.81 L192.07,99.72 L190.62,100.65 L189.16,101.58 L187.71,102.53 L186.26,103.49 L184.80,104.47 L183.35,105.45 L181.89,106.45 L180.44,107.46 L178.98,108.48 L177.53,109.52 L176.08,110.56 L174.62,111.61 L173.17,112.67 L171.71,113.73 L170.26,114.81 L168.80,115.89 L167.35,116.97 L165.89,118.06 L164.44,119.15 L162.99,120.25 L161.53,121.36 L160.08,122.46 L158.62,123.57 L157.17,124.69 L155.71,125.81 L154.26,126.93 L152.81,128.05 L151.35,129.18 L149.90,130.31 L148.44,131.44 L146.99,132.57 L145.53,133.71 L144.08,134.84 L142.63,135.99 L141.17,137.16 L139.72,138.35 L138.26,139.56 L136.81,140.81 L135.35,142.08 L133.90,143.37 L132.45,144.69 L130.99,146.02 L129.54,147.38 L128.08,148.75 L126.63,150.13 L125.17,151.53 L123.72,152.94 L122.26,154.36 L120.81,155.79 L119.36,157.22 L117.90,158.63 L116.45,160.10 L114.99,161.56 L113.54,163.04 L112.08,164.51 L110.63,165.98 L109.18,167.45 L107.72,168.92 L106.27,170.40 L104.81,171.87 L103.36,173.35 L101.90,174.84 L100.45,176.32 L99.00,177.81 L97.54,179.31 L96.09,180.80 L94.63,182.30 L93.18,183.79 L91.72,185.29 L90.27,186.77 L88.82,188.24 L87.36,189.70 L85.91,191.15 L84.45,192.57 L83.00,193.97 L81.54,195.34 L80.09,196.67 L78.63,197.97 L77.18,199.23 L75.73,200.45 L74.27,201.61 L72.82,202.72 L71.36,203.78 L69.91,204.78 L68.45,205.71 L67.00,206.58Z" fill="#8778B3" stroke="none"/>
<path d="M67.00,206.58 L68.45,205.71 L69.91,204.78 L71.36,203.78 L72.82,202.72 L74.27,201.61 L75.73,200.45 L77.18,199.23 L78.63,197.97 L80.09,196.67 L81.54,195.34 L83.00,193.97 L84.45,192.57 L85.91,191.15 L87.36,189.70 L88.82,188.24 L90.27,186.77 L91.72,185.29 L93.18,183.79 L94.63,182.30 L96.09,180.80 L97.54,179.31 L99.00,177.81 L100.45,176.32 L101.90,174.84 L103.36,173.35 L104.81,171.87 L106.27,170.40 L107.72,168.92 L109.18,167.45 L110.63,165.98 L112.08,164.51 L113.54,163.04 L114.99,161.56 L116.45,160.10 L117.90,158.63 L119.36,157.22 L120.81,155.79 L122.26,154.36 L123.72,152.94 L125.17,151.53 L126.63,150.13 L128.08,148.75 L129.54,147.38 L130.99,146.02 L132.45,144.69 L133.90,143.37 L135.35,142.08 L136.81,140.81 L138.26,139.56 L139.72,138.35 L141.17,137.16 L142.63,135.99 L144.08,134.84 L145.53,133.71 L146.99,132.57 L148.44,131.44 L149.90,130.31 L151.35,129.18 L152.81,128.05 L154.26,126.93 L155.71,125.81 L157.17,124.69 L158.62,123.57 L160.08,122.46 L161.53,121.36 L162.99,120.25 L164.44,119.15 L165.89,118.06 L167.35,116.97 L168.80,115.89 L170.26,114.81 L171.71,113.73 L173.17,112.67 L174.62,111.61 L176.08,110.56 L177.53,109.52 L178.98,108.48 L180.44,107.46 L181.89,106.45 L183.35,105.45 L184.80,104.47 L186.26,103.49 L187.71,102.53 L189.16,101.58 L190.62,100.65 L192.07,99.72 L193.53,98.81 L194.98,97.91 L196.44,97.03 L197.89,96.16 L199.34,95.30 L200.80,94.45 L202.25,93.61 L203.71,92.78 L205.16,91.96 L206.62,91.15 L208.07,90.35 L209.53,89.56 L210.98,88.78 L212.43,88.00 L213.89,87.23 L215.34,86.47 L216.80,85.71 L218.25,84.96 L219.71,84.22 L221.16,83.48 L222.61,82.76 L224.07,82.03 L225.52,81.32 L226.98,80.61 L228.43,79.90 L229.89,79.21 L231.34,78.52 L232.79,77.84 L234.25,77.16 L235.70,76.49 L237.16,75.83 L238.61,75.18 L240.07,74.53 L241.52,73.89 L242.97,73.25 L244.43,72.63 L245.88,72.01 L247.34,71.40 L248.79,70.79 L250.25,70.20 L251.70,69.61 L253.16,69.03 L254.61,68.45 L256.06,67.88 L257.52,67.32 L258.97,66.76 L260.43,66.21 L261.88,65.67 L263.34,65.13 L264.79,64.59 L266.24,64.07 L267.70,63.55 L269.15,63.03 L270.61,62.52 L272.06,62.02 L273.52,61.52 L274.97,61.03 L276.42,60.55 L277.88,60.07 L279.33,59.60 L280.79,59.13 L282.24,58.66 L283.70,58.21 L285.15,57.75 L286.61,57.31 L288.06,56.87 L289.51,56.43 L290.97,56.00 L292.42,55.57 L293.88,55.15 L295.33,54.73 L296.79,54.32 L298.24,53.91 L299.69,53.50 L301.15,53.10 L302.60,52.71 L304.06,52.32 L305.51,51.93 L306.97,51.54 L308.42,51.16 L309.87,50.79 L311.33,50.41 L312.78,50.04 L314.24,49.68 L315.69,49.31 L317.15,48.95 L318.60,48.60 L320.05,48.25 L321.51,47.90 L322.96,47.56 L324.42,47.21 L325.87,46.88 L327.33,46.54 L328.78,46.21 L330.24,45.89 L331.69,45.56 L333.14,45.24 L334.60,44.93 L336.05,44.61 L337.51,44.30 L338.96,43.99 L340.42,43.69 L341.87,43.39 L343.32,43.09 L344.78,42.80 L346.23,42.50 L347.69,42.21 L349.14,41.93 L350.60,41.64 L352.05,41.36 L353.50,41.08 L354.96,40.81 L356.41,40.53 L357.87,40.26 L359.32,40.00 L360.78,39.73 L362.23,39.47 L363.68,39.21 L365.14,38.95 L366.59,38.69 L368.05,38.43 L369.50,38.18 L370.96,37.93 L372.41,37.68 L373.87,37.43 L375.32,37.18 L376.77,36.93 L378.23,36.68 L379.68,36.43 L381.14,36.19 L382.59,35.94 L384.05,35.70 L385.50,35.45 L385.50,36.11 L384.05,36.36 L382.59,36.61 L381.14,36.85 L379.68,37.10 L378.23,37.35 L376.77,37.60 L375.32,37.85 L373.87,38.10 L372.41,38.35 L370.96,38.60 L369.50,38.86 L368.05,39.11 L366.59,39.37 L365.14,39.63 L363.68,39.89 L362.23,40.15 L360.78,40.41 L359.32,40.68 L357.87,40.95 L356.41,41.22 L354.96,41.49 L353.50,41.77 L352.05,42.05 L350.60,42.33 L349.14,42.62 L347.69,42.90 L346.23,43.19 L344.78,43.49 L343.32,43.78 L341.87,44.08 L340.42,44.38 L338.96,44.69 L337.51,45.00 L336.05,45.31 L334.60,45.62 L333.14,45.94 L331.69,46.26 L330.24,46.58 L328.78,46.91 L327.33,47.24 L325.87,47.58 L324.42,47.91 L322.96,48.26 L321.51,48.60 L320.05,48.95 L318.60,49.30 L317.15,49.66 L315.69,50.02 L314.24,50.38 L312.78,50.75 L311.33,51.12 L309.87,51.49 L308.42,51.87 L306.97,52.25 L305.51,52.63 L304.06,53.02 L302.60,53.42 L301.15,53.82 L299.69,54.22 L298.24,54.62 L296.79,55.03 L295.33,55.45 L293.88,55.87 L292.42,56.29 L290.97,56.72 L289.51,57.15 L288.06,57.59 L286.61,58.04 L285.15,58.49 L283.70,58.94 L282.24,59.40 L280.79,59.86 L279.33,60.33 L277.88,60.81 L276.42,61.29 L274.97,61.78 L273.52,62.27 L272.06,62.77 L270.61,63.27 L269.15,63.78 L267.70,64.30 L266.24,64.82 L264.79,65.35 L263.34,65.89 L261.88,66.43 L260.43,66.97 L258.97,67.52 L257.52,68.08 L256.06,68.65 L254.61,69.22 L253.16,69.79 L251.70,70.38 L250.25,70.97 L248.79,71.57 L247.34,72.17 L245.88,72.78 L244.43,73.40 L242.97,74.03 L241.52,74.66 L240.07,75.31 L238.61,75.96 L237.16,76.61 L235.70,77.27 L234.25,77.94 L232.79,78.62 L231.34,79.30 L229.89,79.99 L228.43,80.69 L226.98,81.39 L225.52,82.10 L224.07,82.82 L222.61,83.54 L221.16,84.27 L219.71,85.01 L218.25,85.75 L216.80,86.50 L215.34,87.25 L213.89,88.02 L212.43,88.79 L210.98,89.56 L209.53,90.34 L208.07,91.13 L206.62,91.93 L205.16,92.74 L203.71,93.56 L202.25,94.39 L200.80,95.23 L199.34,96.07 L197.89,96.94 L196.44,97.81 L194.98,98.69 L193.53,99.59 L192.07,100.50 L190.62,101.43 L189.16,102.36 L187.71,103.31 L186.26,104.28 L184.80,105.25 L183.35,106.24 L181.89,107.24 L180.44,108.25 L178.98,109.27 L177.53,110.30 L176.08,111.34 L174.62,112.39 L173.17,113.45 L171.71,114.51 L170.26,115.58 L168.80,116.66 L167.35,117.74 L165.89,118.82 L164.44,119.91 L162.99,121.00 L161.53,122.09 L160.08,123.19 L158.62,124.29 L157.17,125.39 L155.71,126.50 L154.26,127.60 L152.81,128.71 L151.35,129.82 L149.90,130.93 L148.44,132.04 L146.99,133.14 L145.53,134.25 L144.08,135.36 L142.63,136.48 L141.17,137.62 L139.72,138.78 L138.26,139.96 L136.81,141.18 L135.35,142.42 L133.90,143.68 L132.45,144.97 L130.99,146.28 L129.54,147.61 L128.08,148.95 L126.63,150.31 L125.17,151.68 L123.72,153.07 L122.26,154.46 L120.81,155.86 L119.36,157.27 L117.90,158.67 L116.45,160.10 L114.99,161.53 L113.54,162.97 L112.08,164.41 L110.63,165.85 L109.18,167.29 L107.72,168.73 L106.27,170.18 L104.81,171.62 L103.36,173.07 L101.90,174.53 L100.45,175.98 L99.00,177.44 L97.54,178.91 L96.09,180.37 L94.63,181.84 L93.18,183.30 L91.72,184.75 L90.27,186.20 L88.82,187.63 L87.36,189.05 L85.91,190.44 L84.45,191.82 L83.00,193.16 L81.54,194.48 L80.09,195.75 L78.63,196.99 L77.18,198.19 L75.73,199.34 L74.27,200.44 L72.82,201.49 L71.36,202.48 L69.91,203.41 L68.45,204.27 L67.00,205.06Z" fill="#C56E1A" stroke="none"/>
<path d="M67.00,205.06 L68.45,204.27 L69.91,203.41 L71.36,202.48 L72.82,201.49 L74.27,200.44 L75.73,199.34 L77.18,198.19 L78.63,196.99 L80.09,195.75 L81.54,194.48 L83.00,193.16 L84.45,191.82 L85.91,190.44 L87.36,189.05 L88.82,187.63 L90.27,186.20 L91.72,184.75 L93.18,183.30 L94.63,181.84 L96.09,180.37 L97.54,178.91 L99.00,177.44 L100.45,175.98 L101.90,174.53 L103.36,173.07 L104.81,171.62 L106.27,170.18 L107.72,168.73 L109.18,167.29 L110.63,165.85 L112.08,164.41 L113.54,162.97 L114.99,161.53 L116.45,160.10 L117.90,158.67 L119.36,157.27 L120.81,155.86 L122.26,154.46 L123.72,153.07 L125.17,151.68 L126.63,150.31 L128.08,148.95 L129.54,147.61 L130.99,146.28 L132.45,144.97 L133.90,143.68 L135.35,142.42 L136.81,141.18 L138.26,139.96 L139.72,138.78 L141.17,137.62 L142.63,136.48 L144.08,135.36 L145.53,134.25 L146.99,133.14 L148.44,132.04 L149.90,130.93 L151.35,129.82 L152.81,128.71 L154.26,127.60 L155.71,126.50 L157.17,125.39 L158.62,124.29 L160.08,123.19 L161.53,122.09 L162.99,121.00 L164.44,119.91 L165.89,118.82 L167.35,117.74 L168.80,116.66 L170.26,115.58 L171.71,114.51 L173.17,113.45 L174.62,112.39 L176.08,111.34 L177.53,110.30 L178.98,109.27 L180.44,108.25 L181.89,107.24 L183.35,106.24 L184.80,105.25 L186.26,104.28 L187.71,103.31 L189.16,102.36 L190.62,101.43 L192.07,100.50 L193.53,99.59 L194.98,98.69 L196.44,97.81 L197.89,96.94 L199.34,96.07 L200.80,95.23 L202.25,94.39 L203.71,93.56 L205.16,92.74 L206.62,91.93 L208.07,91.13 L209.53,90.34 L210.98,89.56 L212.43,88.79 L213.89,88.02 L215.34,87.25 L216.80,86.50 L218.25,85.75 L219.71,85.01 L221.16,84.27 L222.61,83.54 L224.07,82.82 L225.52,82.10 L226.98,81.39 L228.43,80.69 L229.89,79.99 L231.34,79.30 L232.79,78.62 L234.25,77.94 L235.70,77.27 L237.16,76.61 L238.61,75.96 L240.07,75.31 L241.52,74.66 L242.97,74.03 L244.43,73.40 L245.88,72.78 L247.34,72.17 L248.79,71.57 L250.25,70.97 L251.70,70.38 L253.16,69.79 L254.61,69.22 L256.06,68.65 L257.52,68.08 L258.97,67.52 L260.43,66.97 L261.88,66.43 L263.34,65.89 L264.79,65.35 L266.24,64.82 L267.70,64.30 L269.15,63.78 L270.61,63.27 L272.06,62.77 L273.52,62.27 L274.97,61.78 L276.42,61.29 L277.88,60.81 L279.33,60.33 L280.79,59.86 L282.24,59.40 L283.70,58.94 L285.15,58.49 L286.61,58.04 L288.06,57.59 L289.51,57.15 L290.97,56.72 L292.42,56.29 L293.88,55.87 L295.33,55.45 L296.79,55.03 L298.24,54.62 L299.69,54.22 L301.15,53.82 L302.60,53.42 L304.06,53.02 L305.51,52.63 L306.97,52.25 L308.42,51.87 L309.87,51.49 L311.33,51.12 L312.78,50.75 L314.24,50.38 L315.69,50.02 L317.15,49.66 L318.60,49.30 L320.05,48.95 L321.51,48.60 L322.96,48.26 L324.42,47.91 L325.87,47.58 L327.33,47.24 L328.78,46.91 L330.24,46.58 L331.69,46.26 L333.14,45.94 L334.60,45.62 L336.05,45.31 L337.51,45.00 L338.96,44.69 L340.42,44.38 L341.87,44.08 L343.32,43.78 L344.78,43.49 L346.23,43.19 L347.69,42.90 L349.14,42.62 L350.60,42.33 L352.05,42.05 L353.50,41.77 L354.96,41.49 L356.41,41.22 L357.87,40.95 L359.32,40.68 L360.78,40.41 L362.23,40.15 L363.68,39.89 L365.14,39.63 L366.59,39.37 L368.05,39.11 L369.50,38.86 L370.96,38.60 L372.41,38.35 L373.87,38.10 L375.32,37.85 L376.77,37.60 L378.23,37.35 L379.68,37.10 L381.14,36.85 L382.59,36.61 L384.05,36.36 L385.50,36.11 L385.50,36.69 L384.05,36.94 L382.59,37.19 L381.14,37.44 L379.68,37.69 L378.23,37.94 L376.77,38.19 L375.32,38.44 L373.87,38.69 L372.41,38.94 L370.96,39.19 L369.50,39.45 L368.05,39.70 L366.59,39.96 L365.14,40.22 L363.68,40.48 L362.23,40.74 L360.78,41.01 L359.32,41.28 L357.87,41.54 L356.41,41.82 L354.96,42.09 L353.50,42.37 L352.05,42.65 L350.60,42.93 L349.14,43.22 L347.69,43.51 L346.23,43.80 L344.78,44.09 L343.32,44.39 L341.87,44.69 L340.42,44.99 L338.96,45.30 L337.51,45.61 L336.05,45.92 L334.60,46.23 L333.14,46.55 L331.69,46.87 L330.24,47.20 L328.78,47.52 L327.33,47.85 L325.87,48.19 L324.42,48.53 L322.96,48.87 L321.51,49.21 L320.05,49.56 L318.60,49.91 L317.15,50.27 L315.69,50.63 L314.24,50.99 L312.78,51.36 L311.33,51.73 L309.87,52.11 L308.42,52.48 L306.97,52.87 L305.51,53.25 L304.06,53.64 L302.60,54.04 L301.15,54.44 L299.69,54.84 L298.24,55.25 L296.79,55.66 L295.33,56.08 L293.88,56.50 L292.42,56.92 L290.97,57.35 L289.51,57.79 L288.06,58.23 L286.61,58.68 L285.15,59.13 L283.70,59.58 L282.24,60.04 L280.79,60.51 L279.33,60.98 L277.88,61.46 L276.42,61.94 L274.97,62.43 L273.52,62.92 L272.06,63.42 L270.61,63.93 L269.15,64.44 L267.70,64.96 L266.24,65.48 L264.79,66.01 L263.34,66.55 L261.88,67.09 L260.43,67.64 L258.97,68.19 L257.52,68.75 L256.06,69.32 L254.61,69.89 L253.16,70.47 L251.70,71.05 L250.25,71.64 L248.79,72.24 L247.34,72.85 L245.88,73.46 L244.43,74.08 L242.97,74.71 L241.52,75.35 L240.07,75.99 L238.61,76.64 L237.16,77.29 L235.70,77.96 L234.25,78.63 L232.79,79.30 L231.34,79.99 L229.89,80.68 L228.43,81.38 L226.98,82.08 L225.52,82.79 L224.07,83.51 L222.61,84.23 L221.16,84.96 L219.71,85.70 L218.25,86.44 L216.80,87.19 L215.34,87.94 L213.89,88.70 L212.43,89.47 L210.98,90.25 L209.53,91.03 L208.07,91.82 L206.62,92.62 L205.16,93.42 L203.71,94.24 L202.25,95.07 L200.80,95.91 L199.34,96.76 L197.89,97.62 L196.44,98.49 L194.98,99.37 L193.53,100.27 L192.07,101.18 L190.62,102.11 L189.16,103.05 L187.71,104.00 L186.26,104.96 L184.80,105.94 L183.35,106.92 L181.89,107.92 L180.44,108.94 L178.98,109.96 L177.53,110.99 L176.08,112.03 L174.62,113.08 L173.17,114.13 L171.71,115.19 L170.26,116.26 L168.80,117.33 L167.35,118.41 L165.89,119.49 L164.44,120.57 L162.99,121.65 L161.53,122.74 L160.08,123.83 L158.62,124.92 L157.17,126.01 L155.71,127.10 L154.26,128.19 L152.81,129.29 L151.35,130.38 L149.90,131.47 L148.44,132.56 L146.99,133.65 L145.53,134.73 L144.08,135.82 L142.63,136.91 L141.17,138.02 L139.72,139.15 L138.26,140.31 L136.81,141.50 L135.35,142.72 L133.90,143.96 L132.45,145.22 L130.99,146.50 L129.54,147.81 L128.08,149.13 L126.63,150.46 L125.17,151.81 L123.72,153.18 L122.26,154.55 L120.81,155.93 L119.36,157.31 L117.90,158.70 L116.45,160.10 L114.99,161.50 L113.54,162.91 L112.08,164.31 L110.63,165.72 L109.18,167.13 L107.72,168.54 L106.27,169.96 L104.81,171.37 L103.36,172.79 L101.90,174.22 L100.45,175.64 L99.00,177.07 L97.54,178.50 L96.09,179.94 L94.63,181.37 L93.18,182.80 L91.72,184.22 L90.27,185.63 L88.82,187.02 L87.36,188.39 L85.91,189.74 L84.45,191.06 L83.00,192.36 L81.54,193.62 L80.09,194.84 L78.63,196.02 L77.18,197.15 L75.73,198.24 L74.27,199.27 L72.82,200.25 L71.36,201.18 L69.91,202.04 L68.45,202.83 L67.00,203.55Z" fill="#5D9EC7" stroke="none"/>
<path d="M67.00,216.15 L68.45,214.84 L69.91,213.47 L71.36,212.03 L72.82,210.55 L74.27,209.01 L75.73,207.43 L77.18,205.82 L78.63,204.17 L80.09,202.49 L81.54,200.79 L83.00,199.07 L84.45,197.34 L85.91,195.60 L87.36,193.85 L88.82,192.11 L90.27,190.38 L91.72,188.65 L93.18,186.94 L94.63,185.23 L96.09,183.53 L97.54,181.84 L99.00,180.16 L100.45,178.48 L101.90,176.80 L103.36,175.13 L104.81,173.46 L106.27,171.80 L107.72,170.13 L109.18,168.46 L110.63,166.79 L112.08,165.12 L113.54,163.45 L114.99,161.77 L116.45,160.09 L117.90,158.40 L119.36,156.71 L120.81,155.01 L122.26,153.32 L123.72,151.63 L125.17,149.95 L126.63,148.27 L128.08,146.60 L129.54,144.94 L130.99,143.29 L132.45,141.66 L133.90,140.05 L135.35,138.45 L136.81,136.87 L138.26,135.32 L139.72,133.79 L141.17,132.27 L142.63,130.79 L144.08,129.33 L145.53,127.89 L146.99,126.48 L148.44,125.09 L149.90,123.73 L151.35,122.38 L152.81,121.06 L154.26,119.76 L155.71,118.47 L157.17,117.21 L158.62,115.96 L160.08,114.73 L161.53,113.52 L162.99,112.32 L164.44,111.14 L165.89,109.98 L167.35,108.83 L168.80,107.69 L170.26,106.57 L171.71,105.46 L173.17,104.36 L174.62,103.28 L176.08,102.22 L177.53,101.17 L178.98,100.14 L180.44,99.12 L181.89,98.11 L183.35,97.12 L184.80,96.14 L186.26,95.18 L187.71,94.22 L189.16,93.29 L190.62,92.36 L192.07,91.44 L193.53,90.54 L194.98,89.64 L196.44,88.76 L197.89,87.89 L199.34,87.03 L200.80,86.18 L202.25,85.33 L203.71,84.50 L205.16,83.68 L206.62,82.86 L208.07,82.05 L209.53,81.25 L210.98,80.46 L212.43,79.68 L213.89,78.90 L215.34,78.13 L216.80,77.37 L218.25,76.61 L219.71,75.87 L221.16,75.13 L222.61,74.40 L224.07,73.68 L225.52,72.97 L226.98,72.26 L228.43,71.56 L229.89,70.87 L231.34,70.19 L232.79,69.51 L234.25,68.85 L235.70,68.19 L237.16,67.54 L238.61,66.89 L240.07,66.26 L241.52,65.63 L242.97,65.01 L244.43,64.39 L245.88,63.79 L247.34,63.19 L248.79,62.59 L250.25,62.01 L251.70,61.43 L253.16,60.87 L254.61,60.30 L256.06,59.75 L257.52,59.20 L258.97,58.66 L260.43,58.12 L261.88,57.60 L263.34,57.07 L264.79,56.56 L266.24,56.05 L267.70,55.55 L269.15,55.05 L270.61,54.56 L272.06,54.08 L273.52,53.60 L274.97,53.13 L276.42,52.66 L277.88,52.20 L279.33,51.75 L280.79,51.30 L282.24,50.85 L283.70,50.42 L285.15,49.98 L286.61,49.56 L288.06,49.13 L289.51,48.72 L290.97,48.30 L292.42,47.90 L293.88,47.49 L295.33,47.10 L296.79,46.70 L298.24,46.31 L299.69,45.93 L301.15,45.55 L302.60,45.17 L304.06,44.79 L305.51,44.42 L306.97,44.05 L308.42,43.67 L309.87,43.31 L311.33,42.94 L312.78,42.58 L314.24,42.22 L315.69,41.86 L317.15,41.50 L318.60,41.15 L320.05,40.80 L321.51,40.46 L322.96,40.11 L324.42,39.78 L325.87,39.44 L327.33,39.11 L328.78,38.78 L330.24,38.46 L331.69,38.14 L333.14,37.82 L334.60,37.51 L336.05,37.21 L337.51,36.91 L338.96,36.61 L340.42,36.32 L341.87,36.03 L343.32,35.74 L344.78,35.46 L346.23,35.17 L347.69,34.90 L349.14,34.62 L350.60,34.34 L352.05,34.07 L353.50,33.80 L354.96,33.54 L356.41,33.27 L357.87,33.01 L359.32,32.75 L360.78,32.49 L362.23,32.23 L363.68,31.98 L365.14,31.73 L366.59,31.48 L368.05,31.23 L369.50,30.99 L370.96,30.75 L372.41,30.51 L373.87,30.27 L375.32,30.03 L376.77,29.80 L378.23,29.57 L379.68,29.34 L381.14,29.11 L382.59,28.88 L384.05,28.66 L385.50,28.44" stroke="#5E81B5"/>
<path d="M67.00,214.01 L68.45,212.80 L69.91,211.52 L71.36,210.19 L72.82,208.80 L74.27,207.36 L75.73,205.87 L77.18,204.34 L78.63,202.78 L80.09,201.19 L81.54,199.57 L83.00,197.93 L84.45,196.27 L85.91,194.60 L87.36,192.92 L88.82,191.25 L90.27,189.57 L91.72,187.90 L93.18,186.23 L94.63,184.57 L96.09,182.92 L97.54,181.27 L99.00,179.63 L100.45,178.00 L101.90,176.36 L103.36,174.73 L104.81,173.11 L106.27,171.48 L107.72,169.86 L109.18,168.23 L110.63,166.61 L112.08,164.98 L113.54,163.35 L114.99,161.72 L116.45,160.09 L117.90,158.45 L119.36,156.83 L120.81,155.20 L122.26,153.57 L123.72,151.94 L125.17,150.32 L126.63,148.71 L128.08,147.11 L129.54,145.51 L130.99,143.94 L132.45,142.37 L133.90,140.83 L135.35,139.30 L136.81,137.80 L138.26,136.32 L139.72,134.86 L141.17,133.42 L142.63,132.01 L144.08,130.63 L145.53,129.26 L146.99,127.91 L148.44,126.59 L149.90,125.28 L151.35,123.98 L152.81,122.70 L154.26,121.44 L155.71,120.20 L157.17,118.97 L158.62,117.75 L160.08,116.55 L161.53,115.36 L162.99,114.19 L164.44,113.03 L165.89,111.88 L167.35,110.74 L168.80,109.62 L170.26,108.50 L171.71,107.40 L173.17,106.32 L174.62,105.24 L176.08,104.18 L177.53,103.13 L178.98,102.10 L180.44,101.08 L181.89,100.07 L183.35,99.08 L184.80,98.10 L186.26,97.13 L187.71,96.18 L189.16,95.24 L190.62,94.31 L192.07,93.39 L193.53,92.48 L194.98,91.59 L196.44,90.71 L197.89,89.83 L199.34,88.97 L200.80,88.12 L202.25,87.28 L203.71,86.45 L205.16,85.63 L206.62,84.81 L208.07,84.01 L209.53,83.21 L210.98,82.42 L212.43,81.64 L213.89,80.86 L215.34,80.09 L216.80,79.33 L218.25,78.58 L219.71,77.83 L221.16,77.10 L222.61,76.37 L224.07,75.64 L225.52,74.93 L226.98,74.22 L228.43,73.52 L229.89,72.83 L231.34,72.15 L232.79,71.47 L234.25,70.80 L235.70,70.14 L237.16,69.49 L238.61,68.84 L240.07,68.20 L241.52,67.57 L242.97,66.95 L244.43,66.33 L245.88,65.72 L247.34,65.12 L248.79,64.52 L250.25,63.94 L251.70,63.36 L253.16,62.79 L254.61,62.22 L256.06,61.66 L257.52,61.11 L258.97,60.56 L260.43,60.03 L261.88,59.49 L263.34,58.97 L264.79,58.45 L266.24,57.94 L267.70,57.43 L269.15,56.93 L270.61,56.44 L272.06,55.95 L273.52,55.46 L274.97,54.99 L276.42,54.52 L277.88,54.05 L279.33,53.59 L280.79,53.14 L282.24,52.69 L283.70,52.25 L285.15,51.81 L286.61,51.38 L288.06,50.95 L289.51,50.53 L290.97,50.11 L292.42,49.70 L293.88,49.29 L295.33,48.89 L296.79,48.49 L298.24,48.10 L299.69,47.71 L301.15,47.33 L302.60,46.94 L304.06,46.56 L305.51,46.19 L306.97,45.81 L308.42,45.44 L309.87,45.07 L311.33,44.70 L312.78,44.33 L314.24,43.97 L315.69,43.61 L317.15,43.26 L318.60,42.90 L320.05,42.55 L321.51,42.21 L322.96,41.87 L324.42,41.53 L325.87,41.19 L327.33,40.86 L328.78,40.53 L330.24,40.21 L331.69,39.89 L333.14,39.57 L334.60,39.26 L336.05,38.95 L337.51,38.65 L338.96,38.35 L340.42,38.05 L341.87,37.76 L343.32,37.47 L344.78,37.18 L346.23,36.90 L347.69,36.62 L349.14,36.34 L350.60,36.06 L352.05,35.79 L353.50,35.52 L354.96,35.25 L356.41,34.98 L357.87,34.72 L359.32,34.45 L360.78,34.19 L362.23,33.94 L363.68,33.68 L365.14,33.43 L366.59,33.18 L368.05,32.93 L369.50,32.68 L370.96,32.44 L372.41,32.19 L373.87,31.95 L375.32,31.71 L376.77,31.48 L378.23,31.24 L379.68,31.01 L381.14,30.77 L382.59,30.54 L384.05,30.31 L385.50,30.09" stroke="#E19C24"/>
<path d="M67.00,212.12 L68.45,211.00 L69.91,209.81 L71.36,208.56 L72.82,207.25 L74.27,205.90 L75.73,204.49 L77.18,203.04 L78.63,201.56 L80.09,200.04 L81.54,198.49 L83.00,196.92 L84.45,195.33 L85.91,193.72 L87.36,192.11 L88.82,190.48 L90.27,188.86 L91.72,187.23 L93.18,185.61 L94.63,184.00 L96.09,182.38 L97.54,180.77 L99.00,179.17 L100.45,177.57 L101.90,175.98 L103.36,174.38 L104.81,172.79 L106.27,171.21 L107.72,169.62 L109.18,168.03 L110.63,166.45 L112.08,164.86 L113.54,163.27 L114.99,161.68 L116.45,160.09 L117.90,158.49 L119.36,156.95 L120.81,155.38 L122.26,153.81 L123.72,152.25 L125.17,150.69 L126.63,149.15 L128.08,147.61 L129.54,146.09 L130.99,144.58 L132.45,143.09 L133.90,141.61 L135.35,140.16 L136.81,138.72 L138.26,137.32 L139.72,135.93 L141.17,134.57 L142.63,133.24 L144.08,131.92 L145.53,130.63 L146.99,129.35 L148.44,128.08 L149.90,126.82 L151.35,125.58 L152.81,124.35 L154.26,123.13 L155.71,121.92 L157.17,120.73 L158.62,119.54 L160.08,118.37 L161.53,117.21 L162.99,116.06 L164.44,114.91 L165.89,113.78 L167.35,112.66 L168.80,111.55 L170.26,110.44 L171.71,109.35 L173.17,108.27 L174.62,107.20 L176.08,106.14 L177.53,105.10 L178.98,104.07 L180.44,103.04 L181.89,102.04 L183.35,101.04 L184.80,100.06 L186.26,99.09 L187.71,98.13 L189.16,97.19 L190.62,96.26 L192.07,95.34 L193.53,94.43 L194.98,93.54 L196.44,92.65 L197.89,91.78 L199.34,90.92 L200.80,90.07 L202.25,89.23 L203.71,88.40 L205.16,87.58 L206.62,86.76 L208.07,85.96 L209.53,85.16 L210.98,84.37 L212.43,83.59 L213.89,82.82 L215.34,82.05 L216.80,81.30 L218.25,80.54 L219.71,79.80 L221.16,79.06 L222.61,78.33 L224.07,77.61 L225.52,76.90 L226.98,76.19 L228.43,75.49 L229.89,74.79 L231.34,74.11 L232.79,73.43 L234.25,72.76 L235.70,72.10 L237.16,71.44 L238.61,70.79 L240.07,70.15 L241.52,69.51 L242.97,68.89 L244.43,68.27 L245.88,67.66 L247.34,67.05 L248.79,66.45 L250.25,65.86 L251.70,65.28 L253.16,64.71 L254.61,64.14 L256.06,63.57 L257.52,63.02 L258.97,62.47 L260.43,61.93 L261.88,61.39 L263.34,60.86 L264.79,60.34 L266.24,59.82 L267.70,59.31 L269.15,58.81 L270.61,58.31 L272.06,57.82 L273.52,57.33 L274.97,56.85 L276.42,56.37 L277.88,55.90 L279.33,55.44 L280.79,54.98 L282.24,54.53 L283.70,54.08 L285.15,53.64 L286.61,53.20 L288.06,52.77 L289.51,52.35 L290.97,51.92 L292.42,51.51 L293.88,51.10 L295.33,50.69 L296.79,50.29 L298.24,49.89 L299.69,49.49 L301.15,49.10 L302.60,48.72 L304.06,48.33 L305.51,47.95 L306.97,47.57 L308.42,47.20 L309.87,46.83 L311.33,46.46 L312.78,46.09 L314.24,45.73 L315.69,45.37 L317.15,45.01 L318.60,44.66 L320.05,44.31 L321.51,43.96 L322.96,43.62 L324.42,43.28 L325.87,42.94 L327.33,42.61 L328.78,42.28 L330.24,41.95 L331.69,41.63 L333.14,41.32 L334.60,41.00 L336.05,40.69 L337.51,40.39 L338.96,40.08 L340.42,39.79 L341.87,39.49 L343.32,39.20 L344.78,38.91 L346.23,38.62 L347.69,38.34 L349.14,38.06 L350.60,37.78 L352.05,37.50 L353.50,37.23 L354.96,36.96 L356.41,36.69 L357.87,36.42 L359.32,36.16 L360.78,35.90 L362.23,35.64 L363.68,35.38 L365.14,35.13 L366.59,34.87 L368.05,34.62 L369.50,34.37 L370.96,34.13 L372.41,33.88 L373.87,33.64 L375.32,33.39 L376.77,33.15 L378.23,32.91 L379.68,32.68 L381.14,32.44 L382.59,32.21 L384.05,31.97 L385.50,31.74" stroke="#8FB032"/>
<path d="M67.00,209.85 L68.45,208.84 L69.91,207.75 L71.36,206.60 L72.82,205.40 L74.27,204.14 L75.73,202.84 L77.18,201.48 L78.63,200.09 L80.09,198.66 L81.54,197.20 L83.00,195.71 L84.45,194.20 L85.91,192.67 L87.36,191.12 L88.82,189.57 L90.27,188.00 L91.72,186.44 L93.18,184.87 L94.63,183.30 L96.09,181.74 L97.54,180.17 L99.00,178.61 L100.45,177.06 L101.90,175.51 L103.36,173.96 L104.81,172.42 L106.27,170.88 L107.72,169.34 L109.18,167.80 L110.63,166.26 L112.08,164.72 L113.54,163.18 L114.99,161.63 L116.45,160.09 L117.90,158.55 L119.36,157.07 L120.81,155.56 L122.26,154.06 L123.72,152.56 L125.17,151.07 L126.63,149.59 L128.08,148.12 L129.54,146.66 L130.99,145.22 L132.45,143.80 L133.90,142.39 L135.35,141.01 L136.81,139.65 L138.26,138.31 L139.72,137.00 L141.17,135.72 L142.63,134.46 L144.08,133.22 L145.53,132.00 L146.99,130.78 L148.44,129.57 L149.90,128.37 L151.35,127.18 L152.81,125.99 L154.26,124.82 L155.71,123.65 L157.17,122.49 L158.62,121.33 L160.08,120.19 L161.53,119.05 L162.99,117.92 L164.44,116.80 L165.89,115.68 L167.35,114.58 L168.80,113.48 L170.26,112.38 L171.71,111.30 L173.17,110.22 L174.62,109.16 L176.08,108.10 L177.53,107.06 L178.98,106.03 L180.44,105.01 L181.89,104.00 L183.35,103.00 L184.80,102.02 L186.26,101.05 L187.71,100.09 L189.16,99.14 L190.62,98.21 L192.07,97.29 L193.53,96.38 L194.98,95.48 L196.44,94.60 L197.89,93.73 L199.34,92.86 L200.80,92.01 L202.25,91.17 L203.71,90.34 L205.16,89.52 L206.62,88.71 L208.07,87.91 L209.53,87.12 L210.98,86.33 L212.43,85.55 L213.89,84.78 L215.34,84.02 L216.80,83.26 L218.25,82.51 L219.71,81.76 L221.16,81.03 L222.61,80.30 L224.07,79.58 L225.52,78.86 L226.98,78.15 L228.43,77.45 L229.89,76.76 L231.34,76.07 L232.79,75.39 L234.25,74.72 L235.70,74.05 L237.16,73.39 L238.61,72.74 L240.07,72.09 L241.52,71.46 L242.97,70.83 L244.43,70.21 L245.88,69.59 L247.34,68.98 L248.79,68.38 L250.25,67.79 L251.70,67.20 L253.16,66.63 L254.61,66.05 L256.06,65.49 L257.52,64.93 L258.97,64.38 L260.43,63.83 L261.88,63.29 L263.34,62.76 L264.79,62.23 L266.24,61.71 L267.70,61.19 L269.15,60.69 L270.61,60.18 L272.06,59.69 L273.52,59.19 L274.97,58.71 L276.42,58.23 L277.88,57.76 L279.33,57.29 L280.79,56.82 L282.24,56.37 L283.70,55.92 L285.15,55.47 L286.61,55.03 L288.06,54.59 L289.51,54.16 L290.97,53.73 L292.42,53.31 L293.88,52.90 L295.33,52.48 L296.79,52.08 L298.24,51.67 L299.69,51.28 L301.15,50.88 L302.60,50.49 L304.06,50.10 L305.51,49.72 L306.97,49.34 L308.42,48.96 L309.87,48.59 L311.33,48.21 L312.78,47.85 L314.24,47.48 L315.69,47.12 L317.15,46.76 L318.60,46.41 L320.05,46.06 L321.51,45.71 L322.96,45.37 L324.42,45.03 L325.87,44.69 L327.33,44.36 L328.78,44.03 L330.24,43.70 L331.69,43.38 L333.14,43.06 L334.60,42.75 L336.05,42.43 L337.51,42.13 L338.96,41.82 L340.42,41.52 L341.87,41.22 L343.32,40.93 L344.78,40.64 L346.23,40.35 L347.69,40.06 L349.14,39.78 L350.60,39.50 L352.05,39.22 L353.50,38.94 L354.96,38.67 L356.41,38.40 L357.87,38.13 L359.32,37.86 L360.78,37.60 L362.23,37.34 L363.68,37.08 L365.14,36.82 L366.59,36.57 L368.05,36.32 L369.50,36.06 L370.96,35.82 L372.41,35.57 L373.87,35.32 L375.32,35.08 L376.77,34.83 L378.23,34.59 L379.68,34.35 L381.14,34.11 L382.59,33.87 L384.05,33.63 L385.50,33.39" stroke="#EB6235"/>
<path d="M67.00,208.09 L68.45,207.15 L69.91,206.15 L71.36,205.08 L72.82,203.96 L74.27,202.78 L75.73,201.55 L77.18,200.27 L78.63,198.95 L80.09,197.59 L81.54,196.20 L83.00,194.77 L84.45,193.32 L85.91,191.85 L87.36,190.36 L88.82,188.85 L90.27,187.34 L91.72,185.82 L93.18,184.29 L94.63,182.76 L96.09,181.23 L97.54,179.71 L99.00,178.18 L100.45,176.66 L101.90,175.15 L103.36,173.63 L104.81,172.13 L106.27,170.62 L107.72,169.11 L109.18,167.61 L110.63,166.11 L112.08,164.60 L113.54,163.10 L114.99,161.60 L116.45,160.09 L117.90,158.59 L119.36,157.15 L120.81,155.68 L122.26,154.22 L123.72,152.76 L125.17,151.31 L126.63,149.87 L128.08,148.45 L129.54,147.03 L130.99,145.64 L132.45,144.26 L133.90,142.90 L135.35,141.56 L136.81,140.25 L138.26,138.96 L139.72,137.70 L141.17,136.47 L142.63,135.26 L144.08,134.07 L145.53,132.89 L146.99,131.71 L148.44,130.54 L149.90,129.38 L151.35,128.22 L152.81,127.06 L154.26,125.92 L155.71,124.77 L157.17,123.63 L158.62,122.50 L160.08,121.37 L161.53,120.25 L162.99,119.13 L164.44,118.02 L165.89,116.92 L167.35,115.82 L168.80,114.73 L170.26,113.64 L171.71,112.56 L173.17,111.49 L174.62,110.43 L176.08,109.38 L177.53,108.34 L178.98,107.31 L180.44,106.28 L181.89,105.28 L183.35,104.28 L184.80,103.29 L186.26,102.32 L187.71,101.36 L189.16,100.41 L190.62,99.48 L192.07,98.55 L193.53,97.64 L194.98,96.75 L196.44,95.86 L197.89,94.99 L199.34,94.13 L200.80,93.28 L202.25,92.44 L203.71,91.61 L205.16,90.79 L206.62,89.98 L208.07,89.18 L209.53,88.39 L210.98,87.60 L212.43,86.83 L213.89,86.06 L215.34,85.29 L216.80,84.54 L218.25,83.79 L219.71,83.04 L221.16,82.31 L222.61,81.58 L224.07,80.85 L225.52,80.14 L226.98,79.43 L228.43,78.73 L229.89,78.03 L231.34,77.34 L232.79,76.66 L234.25,75.99 L235.70,75.32 L237.16,74.66 L238.61,74.01 L240.07,73.36 L241.52,72.72 L242.97,72.09 L244.43,71.46 L245.88,70.85 L247.34,70.24 L248.79,69.64 L250.25,69.04 L251.70,68.45 L253.16,67.87 L254.61,67.30 L256.06,66.73 L257.52,66.17 L258.97,65.62 L260.43,65.07 L261.88,64.53 L263.34,63.99 L264.79,63.46 L266.24,62.94 L267.70,62.42 L269.15,61.91 L270.61,61.40 L272.06,60.90 L273.52,60.41 L274.97,59.92 L276.42,59.44 L277.88,58.96 L279.33,58.49 L280.79,58.02 L282.24,57.56 L283.70,57.11 L285.15,56.66 L286.61,56.21 L288.06,55.77 L289.51,55.34 L290.97,54.91 L292.42,54.49 L293.88,54.07 L295.33,53.65 L296.79,53.24 L298.24,52.84 L299.69,52.43 L301.15,52.04 L302.60,51.64 L304.06,51.25 L305.51,50.87 L306.97,50.49 L308.42,50.11 L309.87,49.73 L311.33,49.36 L312.78,48.99 L314.24,48.62 L315.69,48.26 L317.15,47.90 L318.60,47.55 L320.05,47.20 L321.51,46.85 L322.96,46.50 L324.42,46.16 L325.87,45.83 L327.33,45.49 L328.78,45.16 L330.24,44.84 L331.69,44.51 L333.14,44.19 L334.60,43.88 L336.05,43.57 L337.51,43.26 L338.96,42.95 L340.42,42.65 L341.87,42.35 L343.32,42.05 L344.78,41.76 L346.23,41.47 L347.69,41.18 L349.14,40.90 L350.60,40.61 L352.05,40.33 L353.50,40.06 L354.96,39.78 L356.41,39.51 L357.87,39.24 L359.32,38.97 L360.78,38.71 L362.23,38.45 L363.68,38.19 L365.14,37.93 L366.59,37.67 L368.05,37.42 L369.50,37.16 L370.96,36.91 L372.41,36.66 L373.87,36.41 L375.32,36.17 L376.77,35.92 L378.23,35.68 L379.68,35.43 L381.14,35.19 L382.59,34.95 L384.05,34.70 L385.50,34.46" stroke="#8778B3"/>
<path d="M67.00,206.58 L68.45,205.71 L69.91,204.78 L71.36,203.78 L72.82,202.72 L74.27,201.61 L75.73,200.45 L77.18,199.23 L78.63,197.97 L80.09,196.67 L81.54,195.34 L83.00,193.97 L84.45,192.57 L85.91,191.15 L87.36,189.70 L88.82,188.24 L90.27,186.77 L91.72,185.29 L93.18,183.79 L94.63,182.30 L96.09,180.80 L97.54,179.31 L99.00,177.81 L100.45,176.32 L101.90,174.84 L103.36,173.35 L104.81,171.87 L106.27,170.40 L107.72,168.92 L109.18,167.45 L110.63,165.98 L112.08,164.51 L113.54,163.04 L114.99,161.56 L116.45,160.10 L117.90,158.63 L119.36,157.22 L120.81,155.79 L122.26,154.36 L123.72,152.94 L125.17,151.53 L126.63,150.13 L128.08,148.75 L129.54,147.38 L130.99,146.02 L132.45,144.69 L133.90,143.37 L135.35,142.08 L136.81,140.81 L138.26,139.56 L139.72,138.35 L141.17,137.16 L142.63,135.99 L144.08,134.84 L145.53,133.71 L146.99,132.57 L148.44,131.44 L149.90,130.31 L151.35,129.18 L152.81,128.05 L154.26,126.93 L155.71,125.81 L157.17,124.69 L158.62,123.57 L160.08,122.46 L161.53,121.36 L162.99,120.25 L164.44,119.15 L165.89,118.06 L167.35,116.97 L168.80,115.89 L170.26,114.81 L171.71,113.73 L173.17,112.67 L174.62,111.61 L176.08,110.56 L177.53,109.52 L178.98,108.48 L180.44,107.46 L181.89,106.45 L183.35,105.45 L184.80,104.47 L186.26,103.49 L187.71,102.53 L189.16,101.58 L190.62,100.65 L192.07,99.72 L193.53,98.81 L194.98,97.91 L196.44,97.03 L197.89,96.16 L199.34,95.30 L200.80,94.45 L202.25,93.61 L203.71,92.78 L205.16,91.96 L206.62,91.15 L208.07,90.35 L209.53,89.56 L210.98,88.78 L212.43,88.00 L213.89,87.23 L215.34,86.47 L216.80,85.71 L218.25,84.96 L219.71,84.22 L221.16,83.48 L222.61,82.76 L224.07,82.03 L225.52,81.32 L226.98,80.61 L228.43,79.90 L229.89,79.21 L231.34,78.52 L232.79,77.84 L234.25,77.16 L235.70,76.49 L237.16,75.83 L238.61,75.18 L240.07,74.53 L241.52,73.89 L242.97,73.25 L244.43,72.63 L245.88,72.01 L247.34,71.40 L248.79,70.79 L250.25,70.20 L251.70,69.61 L253.16,69.03 L254.61,68.45 L256.06,67.88 L257.52,67.32 L258.97,66.76 L260.43,66.21 L261.88,65.67 L263.34,65.13 L264.79,64.59 L266.24,64.07 L267.70,63.55 L269.15,63.03 L270.61,62.52 L272.06,62.02 L273.52,61.52 L274.97,61.03 L276.42,60.55 L277.88,60.07 L279.33,59.60 L280.79,59.13 L282.24,58.66 L283.70,58.21 L285.15,57.75 L286.61,57.31 L288.06,56.87 L289.51,56.43 L290.97,56.00 L292.42,55.57 L293.88,55.15 L295.33,54.73 L296.79,54.32 L298.24,53.91 L299.69,53.50 L301.15,53.10 L302.60,52.71 L304.06,52.32 L305.51,51.93 L306.97,51.54 L308.42,51.16 L309.87,50.79 L311.33,50.41 L312.78,50.04 L314.24,49.68 L315.69,49.31 L317.15,48.95 L318.60,48.60 L320.05,48.25 L321.51,47.90 L322.96,47.56 L324.42,47.21 L325.87,46.88 L327.33,46.54 L328.78,46.21 L330.24,45.89 L331.69,45.56 L333.14,45.24 L334.60,44.93 L336.05,44.61 L337.51,44.30 L338.96,43.99 L340.42,43.69 L341.87,43.39 L343.32,43.09 L344.78,42.80 L346.23,42.50 L347.69,42.21 L349.14,41.93 L350.60,41.64 L352.05,41.36 L353.50,41.08 L354.96,40.81 L356.41,40.53 L357.87,40.26 L359.32,40.00 L360.78,39.73 L362.23,39.47 L363.68,39.21 L365.14,38.95 L366.59,38.69 L368.05,38.43 L369.50,38.18 L370.96,37.93 L372.41,37.68 L373.87,37.43 L375.32,37.18 L376.77,36.93 L378.23,36.68 L379.68,36.43 L381.14,36.19 L382.59,35.94 L384.05,35.70 L385.50,35.45" stroke="#C56E1A"/>
<path d="M67.00,205.06 L68.45,204.27 L69.91,203.41 L71.36,202.48 L72.82,201.49 L74.27,200.44 L75.73,199.34 L77.18,198.19 L78.63,196.99 L80.09,195.75 L81.54,194.48 L83.00,193.16 L84.45,191.82 L85.91,190.44 L87.36,189.05 L88.82,187.63 L90.27,186.20 L91.72,184.75 L93.18,183.30 L94.63,181.84 L96.09,180.37 L97.54,178.91 L99.00,177.44 L100.45,175.98 L101.90,174.53 L103.36,173.07 L104.81,171.62 L106.27,170.18 L107.72,168.73 L109.18,167.29 L110.63,165.85 L112.08,164.41 L113.54,162.97 L114.99,161.53 L116.45,160.10 L117.90,158.67 L119.36,157.27 L120.81,155.86 L122.26,154.46 L123.72,153.07 L125.17,151.68 L126.63,150.31 L128.08,148.95 L129.54,147.61 L130.99,146.28 L132.45,144.97 L133.90,143.68 L135.35,142.42 L136.81,141.18 L138.26,139.96 L139.72,138.78 L141.17,137.62 L142.63,136.48 L144.08,135.36 L145.53,134.25 L146.99,133.14 L148.44,132.04 L149.90,130.93 L151.35,129.82 L152.81,128.71 L154.26,127.60 L155.71,126.50 L157.17,125.39 L158.62,124.29 L160.08,123.19 L161.53,122.09 L162.99,121.00 L164.44,119.91 L165.89,118.82 L167.35,117.74 L168.80,116.66 L170.26,115.58 L171.71,114.51 L173.17,113.45 L174.62,112.39 L176.08,111.34 L177.53,110.30 L178.98,109.27 L180.44,108.25 L181.89,107.24 L183.35,106.24 L184.80,105.25 L186.26,104.28 L187.71,103.31 L189.16,102.36 L190.62,101.43 L192.07,100.50 L193.53,99.59 L194.98,98.69 L196.44,97.81 L197.89,96.94 L199.34,96.07 L200.80,95.23 L202.25,94.39 L203.71,93.56 L205.16,92.74 L206.62,91.93 L208.07,91.13 L209.53,90.34 L210.98,89.56 L212.43,88.79 L213.89,88.02 L215.34,87.25 L216.80,86.50 L218.25,85.75 L219.71,85.01 L221.16,84.27 L222.61,83.54 L224.07,82.82 L225.52,82.10 L226.98,81.39 L228.43,80.69 L229.89,79.99 L231.34,79.30 L232.79,78.62 L234.25,77.94 L235.70,77.27 L237.16,76.61 L238.61,75.96 L240.07,75.31 L241.52,74.66 L242.97,74.03 L244.43,73.40 L245.88,72.78 L247.34,72.17 L248.79,71.57 L250.25,70.97 L251.70,70.38 L253.16,69.79 L254.61,69.22 L256.06,68.65 L257.52,68.08 L258.97,67.52 L260.43,66.97 L261.88,66.43 L263.34,65.89 L264.79,65.35 L266.24,64.82 L267.70,64.30 L269.15,63.78 L270.61,63.27 L272.06,62.77 L273.52,62.27 L274.97,61.78 L276.42,61.29 L277.88,60.81 L279.33,60.33 L280.79,59.86 L282.24,59.40 L283.70,58.94 L285.15,58.49 L286.61,58.04 L288.06,57.59 L289.51,57.15 L290.97,56.72 L292.42,56.29 L293.88,55.87 L295.33,55.45 L296.79,55.03 L298.24,54.62 L299.69,54.22 L301.15,53.82 L302.60,53.42 L304.06,53.02 L305.51,52.63 L306.97,52.25 L308.42,51.87 L309.87,51.49 L311.33,51.12 L312.78,50.75 L314.24,50.38 L315.69,50.02 L317.15,49.66 L318.60,49.30 L320.05,48.95 L321.51,48.60 L322.96,48.26 L324.42,47.91 L325.87,47.58 L327.33,47.24 L328.78,46.91 L330.24,46.58 L331.69,46.26 L333.14,45.94 L334.60,45.62 L336.05,45.31 L337.51,45.00 L338.96,44.69 L340.42,44.38 L341.87,44.08 L343.32,43.78 L344.78,43.49 L346.23,43.19 L347.69,42.90 L349.14,42.62 L350.60,42.33 L352.05,42.05 L353.50,41.77 L354.96,41.49 L356.41,41.22 L357.87,40.95 L359.32,40.68 L360.78,40.41 L362.23,40.15 L363.68,39.89 L365.14,39.63 L366.59,39.37 L368.05,39.11 L369.50,38.86 L370.96,38.60 L372.41,38.35 L373.87,38.10 L375.32,37.85 L376.77,37.60 L378.23,37.35 L379.68,37.10 L381.14,36.85 L382.59,36.61 L384.05,36.36 L385.50,36.11" stroke="#5D9EC7"/>
<path d="M67.00,203.55 L68.45,202.83 L69.91,202.04 L71.36,201.18 L72.82,200.25 L74.27,199.27 L75.73,198.24 L77.18,197.15 L78.63,196.02 L80.09,194.84 L81.54,193.62 L83.00,192.36 L84.45,191.06 L85.91,189.74 L87.36,188.39 L88.82,187.02 L90.27,185.63 L91.72,184.22 L93.18,182.80 L94.63,181.37 L96.09,179.94 L97.54,178.50 L99.00,177.07 L100.45,175.64 L101.90,174.22 L103.36,172.79 L104.81,171.37 L106.27,169.96 L107.72,168.54 L109.18,167.13 L110.63,165.72 L112.08,164.31 L113.54,162.91 L114.99,161.50 L116.45,160.10 L117.90,158.70 L119.36,157.31 L120.81,155.93 L122.26,154.55 L123.72,153.18 L125.17,151.81 L126.63,150.46 L128.08,149.13 L129.54,147.81 L130.99,146.50 L132.45,145.22 L133.90,143.96 L135.35,142.72 L136.81,141.50 L138.26,140.31 L139.72,139.15 L141.17,138.02 L142.63,136.91 L144.08,135.82 L145.53,134.73 L146.99,133.65 L148.44,132.56 L149.90,131.47 L151.35,130.38 L152.81,129.29 L154.26,128.19 L155.71,127.10 L157.17,126.01 L158.62,124.92 L160.08,123.83 L161.53,122.74 L162.99,121.65 L164.44,120.57 L165.89,119.49 L167.35,118.41 L168.80,117.33 L170.26,116.26 L171.71,115.19 L173.17,114.13 L174.62,113.08 L176.08,112.03 L177.53,110.99 L178.98,109.96 L180.44,108.94 L181.89,107.92 L183.35,106.92 L184.80,105.94 L186.26,104.96 L187.71,104.00 L189.16,103.05 L190.62,102.11 L192.07,101.18 L193.53,100.27 L194.98,99.37 L196.44,98.49 L197.89,97.62 L199.34,96.76 L200.80,95.91 L202.25,95.07 L203.71,94.24 L205.16,93.42 L206.62,92.62 L208.07,91.82 L209.53,91.03 L210.98,90.25 L212.43,89.47 L213.89,88.70 L215.34,87.94 L216.80,87.19 L218.25,86.44 L219.71,85.70 L221.16,84.96 L222.61,84.23 L224.07,83.51 L225.52,82.79 L226.98,82.08 L228.43,81.38 L229.89,80.68 L231.34,79.99 L232.79,79.30 L234.25,78.63 L235.70,77.96 L237.16,77.29 L238.61,76.64 L240.07,75.99 L241.52,75.35 L242.97,74.71 L244.43,74.08 L245.88,73.46 L247.34,72.85 L248.79,72.24 L250.25,71.64 L251.70,71.05 L253.16,70.47 L254.61,69.89 L256.06,69.32 L257.52,68.75 L258.97,68.19 L260.43,67.64 L261.88,67.09 L263.34,66.55 L264.79,66.01 L266.24,65.48 L267.70,64.96 L269.15,64.44 L270.61,63.93 L272.06,63.42 L273.52,62.92 L274.97,62.43 L276.42,61.94 L277.88,61.46 L279.33,60.98 L280.79,60.51 L282.24,60.04 L283.70,59.58 L285.15,59.13 L286.61,58.68 L288.06,58.23 L289.51,57.79 L290.97,57.35 L292.42,56.92 L293.88,56.50 L295.33,56.08 L296.79,55.66 L298.24,55.25 L299.69,54.84 L301.15,54.44 L302.60,54.04 L304.06,53.64 L305.51,53.25 L306.97,52.87 L308.42,52.48 L309.87,52.11 L311.33,51.73 L312.78,51.36 L314.24,50.99 L315.69,50.63 L317.15,50.27 L318.60,49.91 L320.05,49.56 L321.51,49.21 L322.96,48.87 L324.42,48.53 L325.87,48.19 L327.33,47.85 L328.78,47.52 L330.24,47.20 L331.69,46.87 L333.14,46.55 L334.60,46.23 L336.05,45.92 L337.51,45.61 L338.96,45.30 L340.42,44.99 L341.87,44.69 L343.32,44.39 L344.78,44.09 L346.23,43.80 L347.69,43.51 L349.14,43.22 L350.60,42.93 L352.05,42.65 L353.50,42.37 L354.96,42.09 L356.41,41.82 L357.87,41.54 L359.32,41.28 L360.78,41.01 L362.23,40.74 L363.68,40.48 L365.14,40.22 L366.59,39.96 L368.05,39.70 L369.50,39.45 L370.96,39.19 L372.41,38.94 L373.87,38.69 L375.32,38.44 L376.77,38.19 L378.23,37.94 L379.68,37.69 L381.14,37.44 L382.59,37.19 L384.05,36.94 L385.50,36.69" stroke="#FFBF00"/>
</g>
<g clip-path="url(#c)" fill="none" stroke-width="1.9" stroke-linejoin="round">
<path d="M67.00,172.97 L68.45,173.48 L69.91,173.82 L71.36,174.00 L72.82,174.05 L74.27,173.97 L75.73,173.79 L77.18,173.51 L78.63,173.15 L80.09,172.72 L81.54,172.25 L83.00,171.73 L84.45,171.19 L85.91,170.65 L87.36,170.09 L88.82,169.53 L90.27,168.95 L91.72,168.36 L93.18,167.76 L94.63,167.14 L96.09,166.50 L97.54,165.84 L99.00,165.16 L100.45,164.46 L101.90,163.73 L103.36,162.98 L104.81,162.20 L106.27,161.40 L107.72,160.57 L109.18,159.73 L110.63,158.88 L112.08,158.03 L113.54,157.18 L114.99,156.33 L116.45,155.49 L117.90,154.68 L119.36,153.88 L120.81,153.11 L122.26,152.37 L123.72,151.65 L125.17,150.94 L126.63,150.25 L128.08,149.57 L129.54,148.89 L130.99,148.20 L132.45,147.46 L133.90,146.58 L135.35,145.51 L136.81,144.34 L138.26,143.16 L139.72,142.06 L141.17,141.13 L142.63,140.34 L144.08,139.63 L145.53,138.93 L146.99,138.15 L148.44,137.25 L149.90,136.23 L151.35,135.18 L152.81,134.14 L154.26,133.17 L155.71,132.26 L157.17,131.39 L158.62,130.56 L160.08,129.75 L161.53,128.95 L162.99,128.15 L164.44,127.34 L165.89,126.52 L167.35,125.71 L168.80,124.89 L170.26,124.07 L171.71,123.25 L173.17,122.43 L174.62,121.60 L176.08,120.77 L177.53,119.95 L178.98,119.12 L180.44,118.29 L181.89,117.46 L183.35,116.64 L184.80,115.81 L186.26,114.99 L187.71,114.17 L189.16,113.35 L190.62,112.53 L192.07,111.71 L193.53,110.90 L194.98,110.09 L196.44,109.29 L197.89,108.49 L199.34,107.69 L200.80,106.90 L202.25,106.11 L203.71,105.33 L205.16,104.56 L206.62,103.79 L208.07,103.03 L209.53,102.27 L210.98,101.52 L212.43,100.78 L213.89,100.05 L215.34,99.33 L216.80,98.61 L218.25,97.90 L219.71,97.20 L221.16,96.50 L222.61,95.81 L224.07,95.13 L225.52,94.46 L226.98,93.79 L228.43,93.12 L229.89,92.47 L231.34,91.82 L232.79,91.17 L234.25,90.53 L235.70,89.90 L237.16,89.27 L238.61,88.65 L240.07,88.03 L241.52,87.42 L242.97,86.81 L244.43,86.21 L245.88,85.61 L247.34,85.01 L248.79,84.42 L250.25,83.84 L251.70,83.26 L253.16,82.68 L254.61,82.10 L256.06,81.53 L257.52,80.96 L258.97,80.40 L260.43,79.84 L261.88,79.28 L263.34,78.73 L264.79,78.17 L266.24,77.63 L267.70,77.08 L269.15,76.54 L270.61,76.01 L272.06,75.48 L273.52,74.95 L274.97,74.42 L276.42,73.90 L277.88,73.38 L279.33,72.87 L280.79,72.36 L282.24,71.85 L283.70,71.35 L285.15,70.85 L286.61,70.35 L288.06,69.86 L289.51,69.38 L290.97,68.89 L292.42,68.41 L293.88,67.94 L295.33,67.46 L296.79,67.00 L298.24,66.53 L299.69,66.07 L301.15,65.62 L302.60,65.17 L304.06,64.72 L305.51,64.27 L306.97,63.83 L308.42,63.40 L309.87,62.97 L311.33,62.54 L312.78,62.12 L314.24,61.70 L315.69,61.28 L317.15,60.87 L318.60,60.47 L320.05,60.06 L321.51,59.67 L322.96,59.27 L324.42,58.88 L325.87,58.50 L327.33,58.12 L328.78,57.74 L330.24,57.37 L331.69,57.00 L333.14,56.64 L334.60,56.28 L336.05,55.93 L337.51,55.58 L338.96,55.23 L340.42,54.89 L341.87,54.56 L343.32,54.23 L344.78,53.90 L346.23,53.58 L347.69,53.26 L349.14,52.95 L350.60,52.64 L352.05,52.33 L353.50,52.04 L354.96,51.74 L356.41,51.45 L357.87,51.17 L359.32,50.89 L360.78,50.61 L362.23,50.34 L363.68,50.08 L365.14,49.82 L366.59,49.56 L368.05,49.31 L369.50,49.06 L370.96,48.82 L372.41,48.59 L373.87,48.36 L375.32,48.13 L376.77,47.91 L378.23,47.69 L379.68,47.48 L381.14,47.27 L382.59,47.07 L384.05,46.88 L385.50,46.69" stroke="#5E81B5"/>
<path d="M67.00,175.12 L68.45,175.12 L69.91,175.09 L71.36,175.01 L72.82,174.90 L74.27,174.75 L75.73,174.57 L77.18,174.35 L78.63,174.09 L80.09,173.80 L81.54,173.48 L83.00,173.12 L84.45,172.74 L85.91,172.33 L87.36,171.88 L88.82,171.41 L90.27,170.92 L91.72,170.40 L93.18,169.85 L94.63,169.28 L96.09,168.69 L97.54,168.07 L99.00,167.43 L100.45,166.78 L101.90,166.11 L103.36,165.41 L104.81,164.70 L106.27,163.98 L107.72,163.24 L109.18,162.49 L110.63,161.72 L112.08,160.94 L113.54,160.14 L114.99,159.34 L116.45,158.52 L117.90,157.69 L119.36,156.85 L120.81,156.01 L122.26,155.15 L123.72,154.28 L125.17,153.41 L126.63,152.53 L128.08,151.64 L129.54,150.74 L130.99,149.84 L132.45,148.93 L133.90,148.02 L135.35,147.11 L136.81,146.19 L138.26,145.27 L139.72,144.34 L141.17,143.42 L142.63,142.49 L144.08,141.57 L145.53,140.64 L146.99,139.71 L148.44,138.79 L149.90,137.86 L151.35,136.94 L152.81,136.02 L154.26,135.11 L155.71,134.20 L157.17,133.29 L158.62,132.38 L160.08,131.48 L161.53,130.58 L162.99,129.68 L164.44,128.79 L165.89,127.90 L167.35,127.02 L168.80,126.13 L170.26,125.26 L171.71,124.38 L173.17,123.51 L174.62,122.65 L176.08,121.79 L177.53,120.93 L178.98,120.08 L180.44,119.23 L181.89,118.39 L183.35,117.55 L184.80,116.71 L186.26,115.88 L187.71,115.06 L189.16,114.24 L190.62,113.42 L192.07,112.61 L193.53,111.81 L194.98,111.01 L196.44,110.21 L197.89,109.43 L199.34,108.64 L200.80,107.86 L202.25,107.09 L203.71,106.32 L205.16,105.56 L206.62,104.81 L208.07,104.06 L209.53,103.31 L210.98,102.57 L212.43,101.84 L213.89,101.11 L215.34,100.39 L216.80,99.67 L218.25,98.96 L219.71,98.26 L221.16,97.56 L222.61,96.87 L224.07,96.18 L225.52,95.50 L226.98,94.82 L228.43,94.16 L229.89,93.49 L231.34,92.84 L232.79,92.19 L234.25,91.54 L235.70,90.90 L237.16,90.27 L238.61,89.64 L240.07,89.02 L241.52,88.41 L242.97,87.80 L244.43,87.19 L245.88,86.59 L247.34,86.00 L248.79,85.41 L250.25,84.83 L251.70,84.25 L253.16,83.67 L254.61,83.11 L256.06,82.54 L257.52,81.98 L258.97,81.43 L260.43,80.88 L261.88,80.34 L263.34,79.80 L264.79,79.26 L266.24,78.73 L267.70,78.20 L269.15,77.68 L270.61,77.16 L272.06,76.65 L273.52,76.14 L274.97,75.64 L276.42,75.14 L277.88,74.64 L279.33,74.15 L280.79,73.66 L282.24,73.17 L283.70,72.69 L285.15,72.21 L286.61,71.74 L288.06,71.26 L289.51,70.80 L290.97,70.33 L292.42,69.87 L293.88,69.41 L295.33,68.96 L296.79,68.51 L298.24,68.06 L299.69,67.61 L301.15,67.17 L302.60,66.73 L304.06,66.30 L305.51,65.86 L306.97,65.43 L308.42,65.00 L309.87,64.58 L311.33,64.15 L312.78,63.73 L314.24,63.31 L315.69,62.90 L317.15,62.48 L318.60,62.07 L320.05,61.67 L321.51,61.26 L322.96,60.86 L324.42,60.47 L325.87,60.07 L327.33,59.68 L328.78,59.29 L330.24,58.91 L331.69,58.53 L333.14,58.15 L334.60,57.78 L336.05,57.41 L337.51,57.05 L338.96,56.69 L340.42,56.33 L341.87,55.98 L343.32,55.63 L344.78,55.29 L346.23,54.95 L347.69,54.61 L349.14,54.28 L350.60,53.96 L352.05,53.64 L353.50,53.32 L354.96,53.01 L356.41,52.71 L357.87,52.41 L359.32,52.11 L360.78,51.82 L362.23,51.54 L363.68,51.26 L365.14,50.99 L366.59,50.72 L368.05,50.46 L369.50,50.20 L370.96,49.95 L372.41,49.71 L373.87,49.47 L375.32,49.24 L376.77,49.01 L378.23,48.79 L379.68,48.58 L381.14,48.37 L382.59,48.18 L384.05,47.98 L385.50,47.80" stroke="#FF0000" stroke-width="2" stroke-dasharray="6.5 2.3" stroke-dashoffset="-2.06"/>
</g>
<rect x="67.2" y="25.3" width="317.5" height="196.0" fill="none" stroke="#000" stroke-width="2.7"/>
<g stroke="#666" stroke-width="2.0"><line x1="67.00" y1="221.60000000000002" x2="67.00" y2="217.80"/><line x1="67.00" y1="25.0" x2="67.00" y2="28.80"/><line x1="82.90" y1="221.60000000000002" x2="82.90" y2="219.00"/><line x1="82.90" y1="25.0" x2="82.90" y2="27.60"/><line x1="98.80" y1="221.60000000000002" x2="98.80" y2="219.00"/><line x1="98.80" y1="25.0" x2="98.80" y2="27.60"/><line x1="114.70" y1="221.60000000000002" x2="114.70" y2="219.00"/><line x1="114.70" y1="25.0" x2="114.70" y2="27.60"/><line x1="130.60" y1="221.60000000000002" x2="130.60" y2="217.80"/><line x1="130.60" y1="25.0" x2="130.60" y2="28.80"/><line x1="146.50" y1="221.60000000000002" x2="146.50" y2="219.00"/><line x1="146.50" y1="25.0" x2="146.50" y2="27.60"/><line x1="162.40" y1="221.60000000000002" x2="162.40" y2="219.00"/><line x1="162.40" y1="25.0" x2="162.40" y2="27.60"/><line x1="178.30" y1="221.60000000000002" x2="178.30" y2="219.00"/><line x1="178.30" y1="25.0" x2="178.30" y2="27.60"/><line x1="194.20" y1="221.60000000000002" x2="194.20" y2="217.80"/><line x1="194.20" y1="25.0" x2="194.20" y2="28.80"/><line x1="210.10" y1="221.60000000000002" x2="210.10" y2="219.00"/><line x1="210.10" y1="25.0" x2="210.10" y2="27.60"/><line x1="226.00" y1="221.60000000000002" x2="226.00" y2="219.00"/><line x1="226.00" y1="25.0" x2="226.00" y2="27.60"/><line x1="241.90" y1="221.60000000000002" x2="241.90" y2="219.00"/><line x1="241.90" y1="25.0" x2="241.90" y2="27.60"/><line x1="257.80" y1="221.60000000000002" x2="257.80" y2="217.80"/><line x1="257.80" y1="25.0" x2="257.80" y2="28.80"/><line x1="273.70" y1="221.60000000000002" x2="273.70" y2="219.00"/><line x1="273.70" y1="25.0" x2="273.70" y2="27.60"/><line x1="289.60" y1="221.60000000000002" x2="289.60" y2="219.00"/><line x1="289.60" y1="25.0" x2="289.60" y2="27.60"/><line x1="305.50" y1="221.60000000000002" x2="305.50" y2="219.00"/><line x1="305.50" y1="25.0" x2="305.50" y2="27.60"/><line x1="321.40" y1="221.60000000000002" x2="321.40" y2="217.80"/><line x1="321.40" y1="25.0" x2="321.40" y2="28.80"/><line x1="337.30" y1="221.60000000000002" x2="337.30" y2="219.00"/><line x1="337.30" y1="25.0" x2="337.30" y2="27.60"/><line x1="353.20" y1="221.60000000000002" x2="353.20" y2="219.00"/><line x1="353.20" y1="25.0" x2="353.20" y2="27.60"/><line x1="369.10" y1="221.60000000000002" x2="369.10" y2="219.00"/><line x1="369.10" y1="25.0" x2="369.10" y2="27.60"/><line x1="385.00" y1="221.60000000000002" x2="385.00" y2="217.80"/><line x1="385.00" y1="25.0" x2="385.00" y2="28.80"/><line x1="66.9" y1="25.20" x2="70.70" y2="25.20"/><line x1="385.0" y1="25.20" x2="381.20" y2="25.20"/><line x1="66.9" y1="35.00" x2="69.50" y2="35.00"/><line x1="385.0" y1="35.00" x2="382.40" y2="35.00"/><line x1="66.9" y1="44.80" x2="69.50" y2="44.80"/><line x1="385.0" y1="44.80" x2="382.40" y2="44.80"/><line x1="66.9" y1="54.60" x2="69.50" y2="54.60"/><line x1="385.0" y1="54.60" x2="382.40" y2="54.60"/><line x1="66.9" y1="64.40" x2="69.50" y2="64.40"/><line x1="385.0" y1="64.40" x2="382.40" y2="64.40"/><line x1="66.9" y1="74.20" x2="70.70" y2="74.20"/><line x1="385.0" y1="74.20" x2="381.20" y2="74.20"/><line x1="66.9" y1="84.00" x2="69.50" y2="84.00"/><line x1="385.0" y1="84.00" x2="382.40" y2="84.00"/><line x1="66.9" y1="93.80" x2="69.50" y2="93.80"/><line x1="385.0" y1="93.80" x2="382.40" y2="93.80"/><line x1="66.9" y1="103.60" x2="69.50" y2="103.60"/><line x1="385.0" y1="103.60" x2="382.40" y2="103.60"/><line x1="66.9" y1="113.40" x2="69.50" y2="113.40"/><line x1="385.0" y1="113.40" x2="382.40" y2="113.40"/><line x1="66.9" y1="123.20" x2="70.70" y2="123.20"/><line x1="385.0" y1="123.20" x2="381.20" y2="123.20"/><line x1="66.9" y1="133.00" x2="69.50" y2="133.00"/><line x1="385.0" y1="133.00" x2="382.40" y2="133.00"/><line x1="66.9" y1="142.80" x2="69.50" y2="142.80"/><line x1="385.0" y1="142.80" x2="382.40" y2="142.80"/><line x1="66.9" y1="152.60" x2="69.50" y2="152.60"/><line x1="385.0" y1="152.60" x2="382.40" y2="152.60"/><line x1="66.9" y1="162.40" x2="69.50" y2="162.40"/><line x1="385.0" y1="162.40" x2="382.40" y2="162.40"/><line x1="66.9" y1="172.20" x2="70.70" y2="172.20"/><line x1="385.0" y1="172.20" x2="381.20" y2="172.20"/><line x1="66.9" y1="182.00" x2="69.50" y2="182.00"/><line x1="385.0" y1="182.00" x2="382.40" y2="182.00"/><line x1="66.9" y1="191.80" x2="69.50" y2="191.80"/><line x1="385.0" y1="191.80" x2="382.40" y2="191.80"/><line x1="66.9" y1="201.60" x2="69.50" y2="201.60"/><line x1="385.0" y1="201.60" x2="382.40" y2="201.60"/><line x1="66.9" y1="211.40" x2="69.50" y2="211.40"/><line x1="385.0" y1="211.40" x2="382.40" y2="211.40"/><line x1="66.9" y1="221.20" x2="70.70" y2="221.20"/><line x1="385.0" y1="221.20" x2="381.20" y2="221.20"/></g>
<g fill="#666" font-size="15.5px"><text transform="translate(66.70,239) scale(0.97,1)" text-anchor="middle">0.0</text><text transform="translate(130.30,239) scale(0.97,1)" text-anchor="middle">0.2</text><text transform="translate(193.90,239) scale(0.97,1)" text-anchor="middle">0.4</text><text transform="translate(257.50,239) scale(0.97,1)" text-anchor="middle">0.6</text><text transform="translate(321.10,239) scale(0.97,1)" text-anchor="middle">0.8</text><text transform="translate(384.70,239) scale(0.97,1)" text-anchor="middle">1.0</text><text transform="translate(63.1,30.10) scale(0.97,1)" text-anchor="end">0.01</text><text x="23.95" y="30.10">−</text><text transform="translate(63.1,79.10) scale(0.97,1)" text-anchor="end">0.02</text><text x="23.95" y="79.10">−</text><text transform="translate(63.1,128.10) scale(0.97,1)" text-anchor="end">0.03</text><text x="23.95" y="128.10">−</text><text transform="translate(63.1,177.10) scale(0.97,1)" text-anchor="end">0.04</text><text x="23.95" y="177.10">−</text><text transform="translate(63.1,226.10) scale(0.97,1)" text-anchor="end">0.05</text><text x="23.95" y="226.10">−</text>
<text transform="translate(225.9,15.6) scale(0.985,1)" font-size="15.7px" text-anchor="middle">Majorana &lt;E&gt;/N</text>
<text x="226" y="262.3" text-anchor="middle">T</text></g>
<g fill="#000" font-size="14.4px"><line x1="411" y1="17.50" x2="433" y2="17.50" stroke="#5E81B5" stroke-width="1.8"/><text x="439.8" y="21.80">N=18</text><line x1="411" y1="41.01" x2="433" y2="41.01" stroke="#E19C24" stroke-width="1.8"/><text x="439.8" y="45.31">N=20</text><line x1="411" y1="64.52" x2="433" y2="64.52" stroke="#8FB032" stroke-width="1.8"/><text x="439.8" y="68.82">N=22</text><line x1="411" y1="88.03" x2="433" y2="88.03" stroke="#EB6235" stroke-width="1.8"/><text x="439.8" y="92.33">N=24</text><line x1="411" y1="111.54" x2="433" y2="111.54" stroke="#8778B3" stroke-width="1.8"/><text x="439.8" y="115.84">N=26</text><line x1="411" y1="135.05" x2="433" y2="135.05" stroke="#C56E1A" stroke-width="1.8"/><text x="439.8" y="139.35">N=28</text><line x1="411" y1="158.56" x2="433" y2="158.56" stroke="#5D9EC7" stroke-width="1.8"/><text x="439.8" y="162.86">N=30</text><line x1="411" y1="182.07" x2="433" y2="182.07" stroke="#FFBF00" stroke-width="1.8"/><text x="439.8" y="186.37">N=32</text><line x1="411" y1="215.4" x2="433" y2="215.4" stroke="#5E81B5" stroke-width="1.8"/><text x="439.8" y="220.10">Extrapolation to N=∞</text><line x1="410.9" y1="248.5" x2="453" y2="248.5" stroke="#FF0000" stroke-width="2" stroke-dasharray="6.5 2.3"/><text x="462" y="252.60">Saddle point</text></g>
</svg>
</body></html>
